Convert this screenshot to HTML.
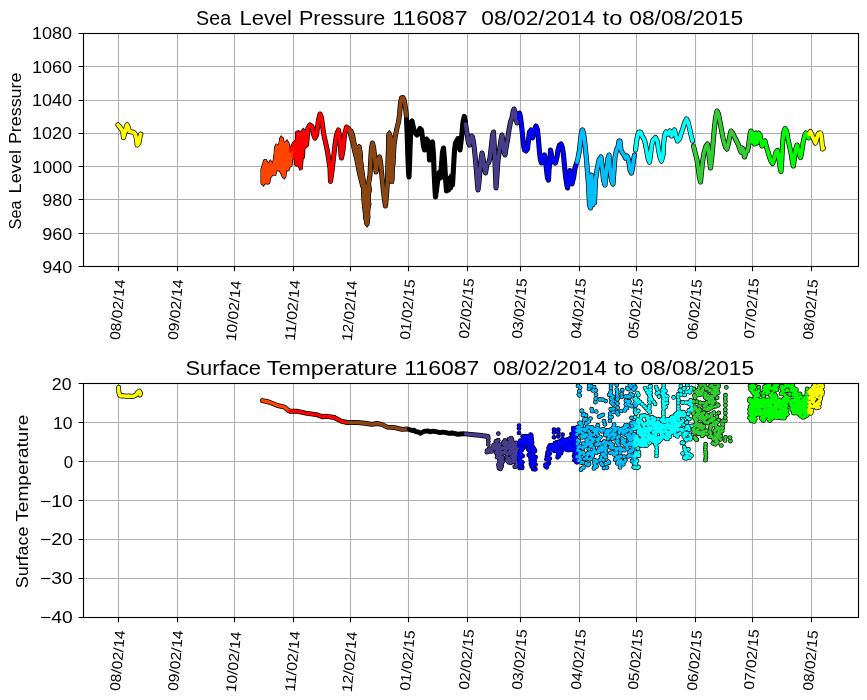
<!DOCTYPE html><html><head><meta charset="utf-8"><title>Sea Level Pressure / Surface Temperature 116087</title><style>html,body{margin:0;padding:0;background:#fff;overflow:hidden;}svg{display:block;will-change:transform;}text{font-family:"Liberation Sans", sans-serif;fill:#000;}</style></head><body>
<svg width="867" height="700" viewBox="0 0 867 700">
<rect width="867" height="700" fill="#fff"/>
<defs><clipPath id="c0"><rect x="83.5" y="33.5" width="775.0" height="233.0"/></clipPath></defs>
<path d="M118.5 33.5V266.5M177.5 33.5V266.5M234.5 33.5V266.5M293.5 33.5V266.5M350.5 33.5V266.5M408.5 33.5V266.5M467.5 33.5V266.5M520.5 33.5V266.5M579.5 33.5V266.5M636.5 33.5V266.5M695.5 33.5V266.5M752.5 33.5V266.5M811.5 33.5V266.5M83.5 66.5H858.5M83.5 100.5H858.5M83.5 133.5H858.5M83.5 166.5H858.5M83.5 199.5H858.5M83.5 233.5H858.5" stroke="#b0b0b0" stroke-width="1.11" fill="none"/>
<g clip-path="url(#c0)"><path d="M118.0 125.0 120.5 127.8 122.8 131.5 123.5 137.5 125.2 131.5 127.0 124.8 128.5 128.0 129.2 131.5 132.0 132.0 134.0 132.5 135.5 135.0 136.5 139.0 137.2 145.0 138.8 143.0 140.0 136.5 140.8 134.2M263.0 183.0 263.5 172.0 265.5 182.0 265.5 163.5 268.0 182.0 268.5 171.0 270.0 175.0 270.5 163.5 272.5 173.0 274.0 167.0 275.5 169.0 276.5 147.5 278.5 169.0 279.0 150.0 281.0 165.0 281.5 139.0 283.0 160.0 284.0 176.0 285.0 155.0 287.0 143.5 287.5 169.0 289.5 152.0 290.0 165.0 291.5 150.0M290.5 151.0 292.5 148.0 294.5 143.5 296.0 147.0 296.5 164.0 297.5 133.0 299.0 147.0 300.0 166.0 301.0 135.0 302.5 157.0 303.5 131.5 305.0 146.0 306.5 145.0 308.0 128.0 310.0 125.0 312.0 126.5 313.5 134.0 315.0 138.0 316.5 135.0 318.5 120.0 320.0 114.0 321.5 118.0 322.5 125.0 323.5 133.0 325.0 140.0 327.0 149.0 328.5 158.0 330.0 168.0 330.5 181.5 332.0 171.0 333.5 158.0 335.0 145.0 336.5 135.0 338.5 130.0 340.0 140.0 341.0 155.0 341.5 158.0 343.0 150.0 344.5 135.0 346.5 127.0 348.5 130.0M349.5 131.0 351.0 131.0 352.5 135.0 354.0 143.0 355.5 150.0 357.0 153.0 358.5 148.5 359.5 150.0 360.5 160.0 361.5 168.0 362.5 176.0 363.5 183.0 364.5 188.0 364.0 195.0 366.0 200.0 364.5 206.0 366.5 211.0 365.5 217.0 367.0 224.0 368.0 217.0 367.0 210.0 369.0 204.0 367.5 197.0 369.5 190.0 368.5 184.0 370.0 175.0 370.5 165.0 371.0 155.0 371.5 148.0 372.5 143.0 373.5 147.0 374.5 155.0 375.5 165.0 376.0 172.0 377.0 165.0 378.0 159.0 379.5 157.0 380.5 162.0 381.5 172.0 382.5 182.0 383.5 192.0 384.5 200.0 385.5 206.0 386.5 195.0 387.5 180.0 388.0 160.0 389.0 134.0 390.0 150.0 390.5 180.0 391.5 145.0 392.0 180.0 392.5 150.0 393.0 165.0 394.0 145.0 395.5 135.0 397.0 128.0 398.5 122.0 399.5 115.0 400.5 103.0 401.5 98.0 403.0 97.5 404.0 100.0 405.0 105.0 406.0 112.0 406.5 117.0M406.5 119.0 407.0 130.0 407.5 145.0 408.0 160.0 408.5 172.0 409.0 177.0 409.5 165.0 410.0 150.0 410.5 135.0 411.0 122.0 412.0 121.0 413.5 128.0 415.0 133.0 417.0 135.0 418.5 132.0 420.0 128.5 421.5 130.0 422.5 138.0 423.5 146.0 424.5 150.0 425.5 144.0 426.5 139.0 428.0 141.0 429.0 150.0 429.5 160.0 430.5 150.0 431.5 143.0 432.5 142.0 433.5 155.0 434.0 170.0 434.5 180.0 435.0 190.0 435.5 197.0 436.5 190.0 437.5 182.0 438.5 175.0 439.5 172.0 440.5 178.0 441.5 165.0 442.5 152.0 443.5 148.0 444.5 160.0 445.5 178.0 446.5 191.0 447.5 180.0 448.5 190.0 449.5 178.0 450.5 188.0 451.5 176.0 452.5 185.0 453.5 168.0 454.5 150.0 455.5 143.0 457.9 138.6 459.0 145.0 460.0 150.0 461.0 142.0 462.0 133.0 463.0 122.0 464.3 116.4 465.5 122.0M465.5 124.0 466.5 130.0 467.5 137.0 468.5 143.0 469.5 145.0 470.5 140.0 471.5 136.0 472.5 137.0 473.5 142.0 474.5 150.0 475.5 160.0 476.5 172.0 477.5 185.0 478.0 190.0 479.0 182.0 480.0 170.0 481.0 160.0 482.0 153.0 483.0 158.0 484.0 166.0 485.5 173.0 487.0 164.0 488.5 163.0 490.0 158.0 491.5 145.0 492.5 135.0 493.5 132.0 494.5 150.0 495.5 175.0 496.0 188.0 497.0 175.0 498.0 160.0 499.5 150.0 501.0 140.0 502.0 135.0 503.0 142.0 504.0 152.0 505.0 155.0 506.0 148.0 507.5 140.0 509.0 130.0 510.5 122.0 512.0 118.0 513.0 112.0 514.0 109.0 515.0 112.0 516.0 119.0 517.0 123.0M518.5 118.0 519.5 113.0 520.5 117.0 521.5 125.0 522.5 135.0 523.5 145.0 524.5 150.0 526.0 151.0 527.5 149.0 528.5 140.0 529.5 132.0 531.0 130.0 532.5 138.0 534.0 131.0 536.0 126.0 537.5 130.0 538.5 140.0 539.5 152.0 540.5 160.0 541.5 163.0 543.0 158.0 544.5 155.0 545.5 160.0 546.5 170.0 547.5 178.0 548.5 180.0 549.0 170.0 550.0 160.0 550.5 150.0 551.5 155.0 552.5 162.0 554.0 160.0 555.5 163.0 557.0 157.0 558.0 150.0 559.5 145.0 561.0 144.0 562.5 148.0 563.5 155.0 564.5 166.0 565.5 176.0 566.5 183.0 567.5 188.0 569.0 178.0 570.0 170.5 571.0 178.0 572.0 184.0 573.5 178.0 575.0 168.0 576.5 163.0M577.0 162.0 578.0 158.0 579.5 150.0 580.5 140.0 581.5 132.0 582.5 130.0 583.5 133.0 584.5 140.0 585.5 150.0 586.5 160.0 587.5 172.0 588.5 185.0 589.0 195.0 589.5 205.0 590.5 208.0 591.5 175.0 592.5 205.0 593.5 185.0 594.5 203.0 595.5 180.0 597.0 170.0 599.0 160.0 601.0 157.0 602.5 170.0 603.5 180.0 605.0 185.0 606.5 170.0 608.0 158.0 609.0 155.0 610.0 168.0 611.5 180.0 613.0 184.0 614.0 170.0 615.0 157.0 616.5 150.0 618.0 147.0 619.0 141.0 620.0 141.0 621.0 150.0 622.5 153.0 624.0 155.0 625.5 158.0 627.0 156.0 628.0 158.0 629.0 163.0 630.0 170.0 631.5 173.0 632.5 168.0 633.5 160.0 634.5 155.0M635.5 150.0 636.5 142.0 637.5 136.0 639.0 132.0 640.5 132.0 642.0 136.0 643.5 138.0 645.0 142.0 646.5 150.0 648.0 158.0 649.5 162.0 650.5 155.0 651.5 146.0 653.0 140.0 655.5 137.5 657.5 142.0 658.5 150.0 660.0 157.0 661.5 161.0 663.0 155.0 663.5 145.0 664.5 136.0 666.0 132.0 668.0 134.0 670.0 131.0 671.5 136.0 673.0 132.0 674.5 130.0 676.0 136.0 677.5 141.0 679.5 139.0 681.0 134.0 683.0 128.0 684.5 123.0 686.5 119.0 688.0 122.0 689.5 128.0 691.0 135.0 692.5 141.0M693.5 146.0 695.0 152.0 697.0 160.0 698.5 170.0 699.5 178.0 700.5 182.0 701.5 172.0 702.5 162.0 704.0 153.0 706.0 146.0 707.5 144.0 708.5 150.0 709.5 160.0 710.5 168.0 711.5 160.0 712.5 150.0 713.5 138.0 714.5 127.0 715.5 118.0 717.0 111.0 718.5 114.0 720.0 122.0 721.5 130.0 723.0 138.0 724.5 144.0 725.5 147.0 727.0 149.0 728.5 143.0 730.0 135.0 731.0 131.0 732.5 133.0 734.0 136.0 736.0 140.0 738.0 144.0 739.5 148.0 741.0 152.0 742.0 148.0 743.0 149.0 744.5 157.0 746.0 152.0 747.5 151.0 748.5 146.0 749.5 138.0 750.5 132.0M751.0 131.0 752.0 142.0 753.0 133.0 754.5 144.0 756.0 133.0 757.0 143.0 758.5 133.0 760.0 135.0 761.0 140.0 762.0 146.0 763.5 142.0 765.0 141.0 766.5 147.0 768.0 152.0 769.5 157.0 771.0 161.0 772.7 163.5 774.5 158.0 776.0 152.0 777.4 150.5 778.5 155.0 779.5 163.0 780.5 170.0 781.0 171.5 781.8 160.0 782.5 145.0 783.5 133.0 785.0 128.5 786.5 131.0 788.0 139.0 789.5 146.0 791.0 153.0 792.5 162.0 793.3 166.0 794.5 158.0 795.5 150.0 797.0 145.0 798.5 150.0 800.0 156.0 800.6 157.5 801.5 153.0 803.0 143.0 804.5 136.0 806.0 133.0 807.5 135.0 808.5 138.0M809.0 134.0 810.4 131.5 811.5 134.0 812.5 137.0 813.5 138.0 814.5 141.0 815.5 143.0 816.5 140.0 817.5 136.0 818.6 133.5 820.5 133.0 821.5 137.0 822.0 143.0 822.5 149.0 823.5 148.0" fill="none" stroke="#000" stroke-width="5.1" stroke-linejoin="round" stroke-linecap="round"/><path d="M261.0 169.4 264.0 160.0 266.1 159.6 268.3 163.4 270.4 160.0 272.6 163.8 274.3 154.8 276.0 144.1 278.6 145.0 281.1 136.0 284.1 142.9 287.1 139.9 289.7 146.3 289.7 155.7 289.3 166.8 286.7 167.7 284.6 178.8 282.4 176.3 279.9 171.6 277.7 166.8 275.6 175.4 273.0 174.6 270.4 178.0 267.9 184.0 265.3 181.4 263.6 186.1 261.4 181.4Z" fill="#000" stroke="#000" stroke-width="1.3" stroke-linejoin="round"/><path d="M289.6 150.1 293.0 142.7 295.3 140.4 297.0 143.2 298.7 130.7 301.0 132.4 303.3 128.4 305.5 130.7 306.1 147.2 303.8 150.1 302.1 168.9 299.8 170.0 298.1 163.2 296.4 165.5 294.7 158.7 291.8 158.7 289.6 155.2Z" fill="#000" stroke="#000" stroke-width="1.3" stroke-linejoin="round"/><path d="M387.0 135.0 389.3 130.7 391.0 133.0 393.5 140.0 394.3 160.0 393.5 183.0 390.5 183.2 388.0 175.0 387.0 160.0Z" fill="#000" stroke="#000" stroke-width="1.3" stroke-linejoin="round"/><path d="M347.5 127.0 350.0 127.0 352.0 131.0 353.5 137.0 355.5 143.0 357.5 146.0 359.0 144.5 361.0 146.0 362.0 152.0 362.5 163.0 363.5 172.0 365.0 180.0 366.0 187.0 361.0 187.0 359.5 181.0 358.0 175.0 356.5 168.0 355.0 160.0 353.0 152.0 351.0 143.0 349.0 136.0Z" fill="#000" stroke="#000" stroke-width="1.3" stroke-linejoin="round"/><path d="M361.5 186.0 364.5 185.0 369.5 184.0 370.3 200.0 369.5 215.0 368.3 224.0 367.0 227.0 365.5 224.0 363.5 214.0 362.0 200.0Z" fill="#000" stroke="#000" stroke-width="1.3" stroke-linejoin="round"/><path d="M261.0 169.4 264.0 160.0 266.1 159.6 268.3 163.4 270.4 160.0 272.6 163.8 274.3 154.8 276.0 144.1 278.6 145.0 281.1 136.0 284.1 142.9 287.1 139.9 289.7 146.3 289.7 155.7 289.3 166.8 286.7 167.7 284.6 178.8 282.4 176.3 279.9 171.6 277.7 166.8 275.6 175.4 273.0 174.6 270.4 178.0 267.9 184.0 265.3 181.4 263.6 186.1 261.4 181.4Z" fill="#ff4500"/><path d="M289.6 150.1 293.0 142.7 295.3 140.4 297.0 143.2 298.7 130.7 301.0 132.4 303.3 128.4 305.5 130.7 306.1 147.2 303.8 150.1 302.1 168.9 299.8 170.0 298.1 163.2 296.4 165.5 294.7 158.7 291.8 158.7 289.6 155.2Z" fill="#ff0000"/><path d="M387.0 135.0 389.3 130.7 391.0 133.0 393.5 140.0 394.3 160.0 393.5 183.0 390.5 183.2 388.0 175.0 387.0 160.0Z" fill="#8b4513"/><path d="M347.5 127.0 350.0 127.0 352.0 131.0 353.5 137.0 355.5 143.0 357.5 146.0 359.0 144.5 361.0 146.0 362.0 152.0 362.5 163.0 363.5 172.0 365.0 180.0 366.0 187.0 361.0 187.0 359.5 181.0 358.0 175.0 356.5 168.0 355.0 160.0 353.0 152.0 351.0 143.0 349.0 136.0Z" fill="#8b4513"/><path d="M361.5 186.0 364.5 185.0 369.5 184.0 370.3 200.0 369.5 215.0 368.3 224.0 367.0 227.0 365.5 224.0 363.5 214.0 362.0 200.0Z" fill="#8b4513"/><path d="M118.0 125.0 120.5 127.8 122.8 131.5 123.5 137.5 125.2 131.5 127.0 124.8 128.5 128.0 129.2 131.5 132.0 132.0 134.0 132.5 135.5 135.0 136.5 139.0 137.2 145.0 138.8 143.0 140.0 136.5 140.8 134.2" fill="none" stroke="#ffff00" stroke-width="3.7" stroke-linejoin="round" stroke-linecap="round"/><path d="M263.0 183.0 263.5 172.0 265.5 182.0 265.5 163.5 268.0 182.0 268.5 171.0 270.0 175.0 270.5 163.5 272.5 173.0 274.0 167.0 275.5 169.0 276.5 147.5 278.5 169.0 279.0 150.0 281.0 165.0 281.5 139.0 283.0 160.0 284.0 176.0 285.0 155.0 287.0 143.5 287.5 169.0 289.5 152.0 290.0 165.0 291.5 150.0" fill="none" stroke="#ff4500" stroke-width="3.7" stroke-linejoin="round" stroke-linecap="round"/><path d="M290.5 151.0 292.5 148.0 294.5 143.5 296.0 147.0 296.5 164.0 297.5 133.0 299.0 147.0 300.0 166.0 301.0 135.0 302.5 157.0 303.5 131.5 305.0 146.0 306.5 145.0 308.0 128.0 310.0 125.0 312.0 126.5 313.5 134.0 315.0 138.0 316.5 135.0 318.5 120.0 320.0 114.0 321.5 118.0 322.5 125.0 323.5 133.0 325.0 140.0 327.0 149.0 328.5 158.0 330.0 168.0 330.5 181.5 332.0 171.0 333.5 158.0 335.0 145.0 336.5 135.0 338.5 130.0 340.0 140.0 341.0 155.0 341.5 158.0 343.0 150.0 344.5 135.0 346.5 127.0 348.5 130.0" fill="none" stroke="#ff0000" stroke-width="3.7" stroke-linejoin="round" stroke-linecap="round"/><path d="M349.5 131.0 351.0 131.0 352.5 135.0 354.0 143.0 355.5 150.0 357.0 153.0 358.5 148.5 359.5 150.0 360.5 160.0 361.5 168.0 362.5 176.0 363.5 183.0 364.5 188.0 364.0 195.0 366.0 200.0 364.5 206.0 366.5 211.0 365.5 217.0 367.0 224.0 368.0 217.0 367.0 210.0 369.0 204.0 367.5 197.0 369.5 190.0 368.5 184.0 370.0 175.0 370.5 165.0 371.0 155.0 371.5 148.0 372.5 143.0 373.5 147.0 374.5 155.0 375.5 165.0 376.0 172.0 377.0 165.0 378.0 159.0 379.5 157.0 380.5 162.0 381.5 172.0 382.5 182.0 383.5 192.0 384.5 200.0 385.5 206.0 386.5 195.0 387.5 180.0 388.0 160.0 389.0 134.0 390.0 150.0 390.5 180.0 391.5 145.0 392.0 180.0 392.5 150.0 393.0 165.0 394.0 145.0 395.5 135.0 397.0 128.0 398.5 122.0 399.5 115.0 400.5 103.0 401.5 98.0 403.0 97.5 404.0 100.0 405.0 105.0 406.0 112.0 406.5 117.0" fill="none" stroke="#8b4513" stroke-width="3.7" stroke-linejoin="round" stroke-linecap="round"/><path d="M406.5 119.0 407.0 130.0 407.5 145.0 408.0 160.0 408.5 172.0 409.0 177.0 409.5 165.0 410.0 150.0 410.5 135.0 411.0 122.0 412.0 121.0 413.5 128.0 415.0 133.0 417.0 135.0 418.5 132.0 420.0 128.5 421.5 130.0 422.5 138.0 423.5 146.0 424.5 150.0 425.5 144.0 426.5 139.0 428.0 141.0 429.0 150.0 429.5 160.0 430.5 150.0 431.5 143.0 432.5 142.0 433.5 155.0 434.0 170.0 434.5 180.0 435.0 190.0 435.5 197.0 436.5 190.0 437.5 182.0 438.5 175.0 439.5 172.0 440.5 178.0 441.5 165.0 442.5 152.0 443.5 148.0 444.5 160.0 445.5 178.0 446.5 191.0 447.5 180.0 448.5 190.0 449.5 178.0 450.5 188.0 451.5 176.0 452.5 185.0 453.5 168.0 454.5 150.0 455.5 143.0 457.9 138.6 459.0 145.0 460.0 150.0 461.0 142.0 462.0 133.0 463.0 122.0 464.3 116.4 465.5 122.0" fill="none" stroke="#000000" stroke-width="3.7" stroke-linejoin="round" stroke-linecap="round"/><path d="M465.5 124.0 466.5 130.0 467.5 137.0 468.5 143.0 469.5 145.0 470.5 140.0 471.5 136.0 472.5 137.0 473.5 142.0 474.5 150.0 475.5 160.0 476.5 172.0 477.5 185.0 478.0 190.0 479.0 182.0 480.0 170.0 481.0 160.0 482.0 153.0 483.0 158.0 484.0 166.0 485.5 173.0 487.0 164.0 488.5 163.0 490.0 158.0 491.5 145.0 492.5 135.0 493.5 132.0 494.5 150.0 495.5 175.0 496.0 188.0 497.0 175.0 498.0 160.0 499.5 150.0 501.0 140.0 502.0 135.0 503.0 142.0 504.0 152.0 505.0 155.0 506.0 148.0 507.5 140.0 509.0 130.0 510.5 122.0 512.0 118.0 513.0 112.0 514.0 109.0 515.0 112.0 516.0 119.0 517.0 123.0" fill="none" stroke="#483d8b" stroke-width="3.7" stroke-linejoin="round" stroke-linecap="round"/><path d="M518.5 118.0 519.5 113.0 520.5 117.0 521.5 125.0 522.5 135.0 523.5 145.0 524.5 150.0 526.0 151.0 527.5 149.0 528.5 140.0 529.5 132.0 531.0 130.0 532.5 138.0 534.0 131.0 536.0 126.0 537.5 130.0 538.5 140.0 539.5 152.0 540.5 160.0 541.5 163.0 543.0 158.0 544.5 155.0 545.5 160.0 546.5 170.0 547.5 178.0 548.5 180.0 549.0 170.0 550.0 160.0 550.5 150.0 551.5 155.0 552.5 162.0 554.0 160.0 555.5 163.0 557.0 157.0 558.0 150.0 559.5 145.0 561.0 144.0 562.5 148.0 563.5 155.0 564.5 166.0 565.5 176.0 566.5 183.0 567.5 188.0 569.0 178.0 570.0 170.5 571.0 178.0 572.0 184.0 573.5 178.0 575.0 168.0 576.5 163.0" fill="none" stroke="#0000ff" stroke-width="3.7" stroke-linejoin="round" stroke-linecap="round"/><path d="M577.0 162.0 578.0 158.0 579.5 150.0 580.5 140.0 581.5 132.0 582.5 130.0 583.5 133.0 584.5 140.0 585.5 150.0 586.5 160.0 587.5 172.0 588.5 185.0 589.0 195.0 589.5 205.0 590.5 208.0 591.5 175.0 592.5 205.0 593.5 185.0 594.5 203.0 595.5 180.0 597.0 170.0 599.0 160.0 601.0 157.0 602.5 170.0 603.5 180.0 605.0 185.0 606.5 170.0 608.0 158.0 609.0 155.0 610.0 168.0 611.5 180.0 613.0 184.0 614.0 170.0 615.0 157.0 616.5 150.0 618.0 147.0 619.0 141.0 620.0 141.0 621.0 150.0 622.5 153.0 624.0 155.0 625.5 158.0 627.0 156.0 628.0 158.0 629.0 163.0 630.0 170.0 631.5 173.0 632.5 168.0 633.5 160.0 634.5 155.0" fill="none" stroke="#00bfff" stroke-width="3.7" stroke-linejoin="round" stroke-linecap="round"/><path d="M635.5 150.0 636.5 142.0 637.5 136.0 639.0 132.0 640.5 132.0 642.0 136.0 643.5 138.0 645.0 142.0 646.5 150.0 648.0 158.0 649.5 162.0 650.5 155.0 651.5 146.0 653.0 140.0 655.5 137.5 657.5 142.0 658.5 150.0 660.0 157.0 661.5 161.0 663.0 155.0 663.5 145.0 664.5 136.0 666.0 132.0 668.0 134.0 670.0 131.0 671.5 136.0 673.0 132.0 674.5 130.0 676.0 136.0 677.5 141.0 679.5 139.0 681.0 134.0 683.0 128.0 684.5 123.0 686.5 119.0 688.0 122.0 689.5 128.0 691.0 135.0 692.5 141.0" fill="none" stroke="#00ffff" stroke-width="3.7" stroke-linejoin="round" stroke-linecap="round"/><path d="M693.5 146.0 695.0 152.0 697.0 160.0 698.5 170.0 699.5 178.0 700.5 182.0 701.5 172.0 702.5 162.0 704.0 153.0 706.0 146.0 707.5 144.0 708.5 150.0 709.5 160.0 710.5 168.0 711.5 160.0 712.5 150.0 713.5 138.0 714.5 127.0 715.5 118.0 717.0 111.0 718.5 114.0 720.0 122.0 721.5 130.0 723.0 138.0 724.5 144.0 725.5 147.0 727.0 149.0 728.5 143.0 730.0 135.0 731.0 131.0 732.5 133.0 734.0 136.0 736.0 140.0 738.0 144.0 739.5 148.0 741.0 152.0 742.0 148.0 743.0 149.0 744.5 157.0 746.0 152.0 747.5 151.0 748.5 146.0 749.5 138.0 750.5 132.0" fill="none" stroke="#32cd32" stroke-width="3.7" stroke-linejoin="round" stroke-linecap="round"/><path d="M751.0 131.0 752.0 142.0 753.0 133.0 754.5 144.0 756.0 133.0 757.0 143.0 758.5 133.0 760.0 135.0 761.0 140.0 762.0 146.0 763.5 142.0 765.0 141.0 766.5 147.0 768.0 152.0 769.5 157.0 771.0 161.0 772.7 163.5 774.5 158.0 776.0 152.0 777.4 150.5 778.5 155.0 779.5 163.0 780.5 170.0 781.0 171.5 781.8 160.0 782.5 145.0 783.5 133.0 785.0 128.5 786.5 131.0 788.0 139.0 789.5 146.0 791.0 153.0 792.5 162.0 793.3 166.0 794.5 158.0 795.5 150.0 797.0 145.0 798.5 150.0 800.0 156.0 800.6 157.5 801.5 153.0 803.0 143.0 804.5 136.0 806.0 133.0 807.5 135.0 808.5 138.0" fill="none" stroke="#00ff00" stroke-width="3.7" stroke-linejoin="round" stroke-linecap="round"/><path d="M809.0 134.0 810.4 131.5 811.5 134.0 812.5 137.0 813.5 138.0 814.5 141.0 815.5 143.0 816.5 140.0 817.5 136.0 818.6 133.5 820.5 133.0 821.5 137.0 822.0 143.0 822.5 149.0 823.5 148.0" fill="none" stroke="#ffff00" stroke-width="3.7" stroke-linejoin="round" stroke-linecap="round"/></g>
<rect x="83.5" y="33.5" width="775.0" height="233.0" fill="none" stroke="#000" stroke-width="1.11" stroke-linejoin="miter" stroke-linecap="square"/>
<path d="M118.5 266.5v4.86M177.5 266.5v4.86M234.5 266.5v4.86M293.5 266.5v4.86M350.5 266.5v4.86M408.5 266.5v4.86M467.5 266.5v4.86M520.5 266.5v4.86M579.5 266.5v4.86M636.5 266.5v4.86M695.5 266.5v4.86M752.5 266.5v4.86M811.5 266.5v4.86M83.5 33.5h-4.86M83.5 66.5h-4.86M83.5 100.5h-4.86M83.5 133.5h-4.86M83.5 166.5h-4.86M83.5 199.5h-4.86M83.5 233.5h-4.86M83.5 266.5h-4.86" stroke="#000" stroke-width="1.11" fill="none"/>
<text x="32.03" y="39.03" font-size="16.50" textLength="39.97" lengthAdjust="spacingAndGlyphs">1080</text>
<text x="32.03" y="73.03" font-size="16.50" textLength="39.97" lengthAdjust="spacingAndGlyphs">1060</text>
<text x="32.03" y="105.98" font-size="16.50" textLength="39.97" lengthAdjust="spacingAndGlyphs">1040</text>
<text x="32.03" y="138.98" font-size="16.50" textLength="39.97" lengthAdjust="spacingAndGlyphs">1020</text>
<text x="32.23" y="172.98" font-size="16.50" textLength="39.97" lengthAdjust="spacingAndGlyphs">1000</text>
<text x="42.29" y="205.98" font-size="16.50" textLength="30.01" lengthAdjust="spacingAndGlyphs">980</text>
<text x="42.29" y="239.98" font-size="16.50" textLength="30.01" lengthAdjust="spacingAndGlyphs">960</text>
<text x="42.29" y="273.13" font-size="16.50" textLength="30.01" lengthAdjust="spacingAndGlyphs">940</text>
<text x="-30.50" y="5.15" font-size="14.40" textLength="60.84" lengthAdjust="spacingAndGlyphs" transform="translate(117.30 309.50) rotate(-85)">08/02/14</text>
<text x="-30.50" y="5.15" font-size="14.40" textLength="60.84" lengthAdjust="spacingAndGlyphs" transform="translate(175.30 309.50) rotate(-85)">09/02/14</text>
<text x="-30.77" y="5.15" font-size="14.40" textLength="60.82" lengthAdjust="spacingAndGlyphs" transform="translate(233.30 310.50) rotate(-85)">10/02/14</text>
<text x="-30.77" y="5.15" font-size="14.40" textLength="60.82" lengthAdjust="spacingAndGlyphs" transform="translate(292.30 310.00) rotate(-85)">11/02/14</text>
<text x="-30.77" y="5.15" font-size="14.40" textLength="60.82" lengthAdjust="spacingAndGlyphs" transform="translate(349.30 310.50) rotate(-85)">12/02/14</text>
<text x="-30.28" y="5.15" font-size="14.40" textLength="60.60" lengthAdjust="spacingAndGlyphs" transform="translate(407.30 309.50) rotate(-85)">01/02/15</text>
<text x="-30.28" y="5.15" font-size="14.40" textLength="60.60" lengthAdjust="spacingAndGlyphs" transform="translate(466.30 308.50) rotate(-85)">02/02/15</text>
<text x="-30.28" y="5.15" font-size="14.40" textLength="60.60" lengthAdjust="spacingAndGlyphs" transform="translate(519.30 308.50) rotate(-85)">03/02/15</text>
<text x="-30.28" y="5.15" font-size="14.40" textLength="60.60" lengthAdjust="spacingAndGlyphs" transform="translate(578.30 308.50) rotate(-85)">04/02/15</text>
<text x="-30.28" y="5.15" font-size="14.40" textLength="60.60" lengthAdjust="spacingAndGlyphs" transform="translate(635.30 308.50) rotate(-85)">05/02/15</text>
<text x="-30.28" y="5.15" font-size="14.40" textLength="60.60" lengthAdjust="spacingAndGlyphs" transform="translate(694.30 309.50) rotate(-85)">06/02/15</text>
<text x="-30.28" y="5.15" font-size="14.40" textLength="60.60" lengthAdjust="spacingAndGlyphs" transform="translate(751.30 308.50) rotate(-85)">07/02/15</text>
<text x="-30.28" y="5.15" font-size="14.40" textLength="60.60" lengthAdjust="spacingAndGlyphs" transform="translate(810.30 309.50) rotate(-85)">08/02/15</text>
<defs><clipPath id="c1"><rect x="83.5" y="383.5" width="775.0" height="234.0"/></clipPath></defs>
<path d="M118.5 383.5V617.5M177.5 383.5V617.5M234.5 383.5V617.5M293.5 383.5V617.5M350.5 383.5V617.5M408.5 383.5V617.5M467.5 383.5V617.5M520.5 383.5V617.5M579.5 383.5V617.5M636.5 383.5V617.5M695.5 383.5V617.5M752.5 383.5V617.5M811.5 383.5V617.5M83.5 422.5H858.5M83.5 461.5H858.5M83.5 500.5H858.5M83.5 539.5H858.5M83.5 578.5H858.5" stroke="#b0b0b0" stroke-width="1.11" fill="none"/>
<g clip-path="url(#c1)"><defs><marker id="mk" markerUnits="userSpaceOnUse" markerWidth="5.7" markerHeight="5.7" refX="2.85" refY="2.85" overflow="visible"><circle cx="2.85" cy="2.85" r="2.35" fill="#000"/></marker><marker id="m0000ff" markerUnits="userSpaceOnUse" markerWidth="5.7" markerHeight="5.7" refX="2.85" refY="2.85" overflow="visible"><circle cx="2.85" cy="2.85" r="1.65" fill="#0000ff"/></marker><marker id="m00bfff" markerUnits="userSpaceOnUse" markerWidth="5.7" markerHeight="5.7" refX="2.85" refY="2.85" overflow="visible"><circle cx="2.85" cy="2.85" r="1.65" fill="#00bfff"/></marker><marker id="m00ff00" markerUnits="userSpaceOnUse" markerWidth="5.7" markerHeight="5.7" refX="2.85" refY="2.85" overflow="visible"><circle cx="2.85" cy="2.85" r="1.65" fill="#00ff00"/></marker><marker id="m00ffff" markerUnits="userSpaceOnUse" markerWidth="5.7" markerHeight="5.7" refX="2.85" refY="2.85" overflow="visible"><circle cx="2.85" cy="2.85" r="1.65" fill="#00ffff"/></marker><marker id="m32cd32" markerUnits="userSpaceOnUse" markerWidth="5.7" markerHeight="5.7" refX="2.85" refY="2.85" overflow="visible"><circle cx="2.85" cy="2.85" r="1.65" fill="#32cd32"/></marker><marker id="m483d8b" markerUnits="userSpaceOnUse" markerWidth="5.7" markerHeight="5.7" refX="2.85" refY="2.85" overflow="visible"><circle cx="2.85" cy="2.85" r="1.65" fill="#483d8b"/></marker><marker id="mffff00" markerUnits="userSpaceOnUse" markerWidth="5.7" markerHeight="5.7" refX="2.85" refY="2.85" overflow="visible"><circle cx="2.85" cy="2.85" r="1.65" fill="#ffff00"/></marker></defs><path d="M118.6 387.3 118.8 392.0 119.6 395.0 121.0 396.0 123.0 395.8 126.0 396.2 129.0 396.0 132.0 396.5 134.0 396.0 136.0 395.0 137.5 392.6 139.4 391.0 140.6 393.4 140.0 395.0M262.4 400.6 268.8 402.0 278.1 405.7 284.5 407.1 288.2 410.3 290.0 411.2M290.0 411.2 296.5 411.2 305.7 413.1 317.7 414.9 322.3 416.8 327.0 416.3 334.3 417.5 341.1 421.1 347.1 422.5M348.5 422.5 357.7 422.5 366.9 423.5 371.5 424.4 377.0 423.5 381.7 424.4 387.2 427.1 394.6 427.6 402.0 429.4 407.5 429.0M408.5 429.3 412.0 430.5 414.0 430.2 416.0 431.8 418.5 432.0 420.3 433.2 422.0 432.4 424.0 431.4 427.7 430.9 430.0 431.8 433.0 431.2 436.9 431.8 440.0 432.6 443.0 432.1 446.1 432.7 449.0 433.4 452.0 433.0 455.4 433.6 458.0 434.4 460.0 434.0 463.7 433.8M465.5 433.9 473.8 434.8 479.3 435.3 485.0 436.0 488.0 436.5" fill="none" stroke="#000" stroke-width="4.9" stroke-linejoin="round" stroke-linecap="round"/><path d="M486.9 452.2 487.1 450.5 488.0 451.8 488.3 438.5 488.3 441.4 488.3 444.5 488.3 451.5 488.8 449.2 490.0 448.6 490.8 450.9 491.1 451.1 491.6 451.5 492.8 448.5 493.4 447.3 493.6 445.1 494.3 445.6 494.6 448.9 494.8 444.6 495.5 448.2 495.7 448.7 495.9 441.3 496.1 452.7 496.2 447.8 496.5 447.7 496.8 447.7 496.8 444.3 496.9 441.9 497.1 446.7 497.1 451.3 497.1 457.2 497.2 455.7 497.7 452.8 498.0 449.7 498.0 444.4 498.0 452.9 498.1 447.4 498.2 440.2 498.3 433.6 498.4 465.3 498.4 449.4 498.6 449.3 498.9 467.9 498.9 446.7 498.9 463.6 499.0 454.4 499.2 467.4 499.2 465.3 499.3 458.3 499.5 445.1 499.7 448.9 499.7 460.4 499.9 444.5 499.9 461.0 500.0 455.6 500.3 448.2 500.3 468.9 500.3 458.9 500.5 468.4 500.7 461.9 500.8 458.0 500.8 451.7 501.0 463.3 501.1 461.1 501.3 463.0 501.5 466.0 501.5 463.2 501.6 452.8 501.7 466.1 501.9 447.6 501.9 457.1 502.2 453.4 502.2 459.8 502.4 453.1 502.6 448.7 502.9 461.4 502.9 457.8 503.1 448.1 503.3 443.3 503.7 452.6 503.7 442.2 504.2 444.6 504.2 452.2 504.2 442.2 504.8 447.3 504.9 440.3 505.2 444.9 505.5 450.9 505.7 448.3 505.8 449.8 505.9 453.2 506.3 444.2 506.4 444.0 506.4 443.4 506.6 456.8 506.6 442.5 506.7 460.1 506.8 443.1 507.1 454.2 507.2 460.6 507.5 453.4 507.5 445.5 507.7 448.3 507.7 447.7 507.7 459.4 507.8 454.1 508.1 460.8 508.2 444.7 508.5 460.4 508.5 452.2 508.6 462.3 508.9 446.8 509.0 444.2 509.0 439.0 509.1 443.6 509.1 458.3 509.1 447.4 509.2 444.1 509.8 452.7 509.9 441.5 509.9 460.0 509.9 453.0 510.3 451.7 510.4 448.3 510.4 450.4 510.4 445.3 510.8 453.4 510.8 460.1 510.9 448.5 510.9 462.8 511.1 439.3 511.1 438.0 511.5 439.8 511.7 438.9 511.9 449.3 511.9 456.3 512.0 456.5 512.2 456.1 512.3 441.0 512.3 443.3 512.4 445.5 512.6 451.4 512.7 443.9 512.9 459.4 513.0 460.7 513.1 442.9 513.3 456.9 513.4 455.2 513.5 457.6 513.6 454.9 513.7 447.9 513.7 461.9 513.8 447.2 514.0 450.8 514.1 458.6 514.1 452.7 514.2 449.1 514.5 458.8 514.6 453.2 514.7 466.8 514.7 446.0 514.8 454.0 515.1 448.7 515.2 446.3 515.2 447.2 515.3 450.5 515.5 445.6 515.6 456.7 515.6 444.1 515.8 456.0 515.9 448.5 516.0 466.3 516.1 449.9 516.2 442.9 516.2 461.7 516.4 455.7 516.7 458.1 516.7 451.1 516.8 464.3 516.8 464.9 517.2 453.1 517.4 455.5 517.4 448.5 517.4 452.4" fill="none" stroke="none" marker-start="url(#mk)" marker-mid="url(#mk)" marker-end="url(#mk)"/><path d="M518.3 457.3 518.3 446.1 518.5 455.6 518.7 465.7 518.8 442.9 518.9 453.3 519.0 425.5 519.0 428.5 519.0 433.0 519.0 461.2 519.1 452.3 519.3 462.5 519.4 461.8 519.5 458.9 519.6 467.9 519.9 442.3 520.0 460.6 520.0 458.9 520.0 452.8 520.3 440.7 520.3 444.8 520.3 442.9 520.4 463.3 520.9 442.4 520.9 448.3 520.9 450.2 521.0 463.4 521.1 455.4 521.4 454.7 521.6 463.4 521.7 456.2 521.7 443.1 521.8 462.6 521.8 450.0 522.1 467.9 522.2 467.1 522.3 448.2 522.4 462.3 522.4 440.7 522.7 456.1 522.9 436.3 523.2 448.1 523.3 442.2 523.7 438.0 523.9 447.2 524.2 440.6 524.5 444.2 524.7 444.1 524.9 440.1 525.1 437.6 525.5 442.4 525.7 436.0 525.9 442.7 526.2 438.3 526.3 442.9 526.5 438.5 527.0 442.0 527.1 436.4 527.6 440.2 527.6 439.7 527.7 440.7 528.0 440.1 528.1 449.0 528.1 447.9 528.5 443.2 528.7 455.1 528.7 438.7 528.9 443.2 529.1 441.9 529.1 450.6 529.4 444.5 529.5 440.7 529.7 445.9 529.7 442.7 529.8 439.4 529.9 454.5 530.0 437.1 530.0 436.9 530.4 457.6 530.4 454.4 530.5 454.6 530.6 434.7 530.8 460.3 530.8 463.8 530.9 447.0 530.9 436.9 530.9 458.2 531.3 435.5 531.6 439.7 531.6 440.8 531.6 451.2 531.7 466.5 531.8 438.7 532.0 461.8 532.0 446.7 532.2 456.1 532.2 442.6 532.4 456.9 532.5 448.4 532.5 464.9 532.6 461.1 532.7 446.7 532.8 451.0 532.8 450.6 533.1 464.4 533.2 469.1 533.3 450.3 533.4 452.9 533.5 464.6 533.6 456.5 533.9 461.2 534.0 450.3 534.0 448.5 534.2 458.8 534.5 460.7 534.5 461.0 534.7 469.2 534.9 450.7 535.0 450.8 535.2 457.4 535.4 469.2 535.6 457.0 535.6 464.6 545.5 464.6 545.6 466.4 546.4 466.0 546.4 459.3 546.8 467.3 547.0 456.2 547.3 456.9 547.5 453.0 547.5 464.7 547.7 454.4 547.8 455.6 548.0 451.6 548.5 448.0 548.5 452.6 548.9 459.7 549.0 463.1 549.0 450.3 549.3 447.0 549.5 446.0 549.8 453.6 549.8 458.6 550.0 445.4 550.3 446.3 550.4 446.6 550.9 447.7 550.9 447.9 551.1 449.0 551.5 445.6 552.0 445.2 552.1 446.7 552.8 449.4 553.5 447.5 553.5 449.0 553.8 446.3 554.0 429.6 554.0 432.5 554.0 437.3 554.2 445.4 554.2 450.8 554.9 443.0 555.3 449.8 555.3 450.5 555.7 448.4 555.9 447.5 556.2 442.8 556.3 443.6 557.0 451.0 557.0 445.6 557.1 442.2 557.5 442.3 557.5 451.2 557.6 457.3 557.6 443.4 557.9 442.7 558.1 455.2 558.2 452.5 558.3 453.5 558.3 429.6 558.3 432.5 558.3 436.4 558.9 447.6 559.0 446.3 559.0 456.0 559.1 441.8 559.5 443.8 559.5 444.8 559.7 444.9 559.9 451.0 560.0 443.5 560.1 442.5 560.3 445.2 560.5 449.9 560.6 441.2 560.9 440.9 561.0 453.3 561.2 443.1 561.2 443.5 561.4 451.2 562.0 441.1 562.0 445.5 562.2 440.6 562.3 449.5 562.6 434.7 562.7 439.0 563.0 444.3 563.3 445.0 563.5 442.5 563.6 444.5 564.0 448.8 564.3 442.8 564.4 448.4 564.7 440.7 564.9 446.9 565.3 446.2 565.5 449.2 565.6 445.5 566.5 441.5 566.5 441.8 566.8 439.7 567.0 440.5 567.3 450.0 567.3 449.4 567.6 446.2 568.0 442.9 568.4 447.5 568.4 440.3 568.7 439.4 568.8 450.1 569.1 443.8 569.3 441.5 569.8 446.4 569.9 443.2 569.9 438.7 570.1 438.5 570.4 443.1 570.8 443.7 570.9 447.5 570.9 448.8 571.1 438.7 571.4 434.1 571.5 446.2 571.6 449.8 571.7 449.0 571.9 439.0 572.2 434.5 572.5 438.7 572.5 445.8 572.7 444.4 572.9 440.1 572.9 441.8 573.1 428.0 573.3 435.2 573.4 447.7 573.5 432.6 573.7 429.3 573.7 430.0 573.9 431.4 574.0 450.0 574.0 456.1 574.1 447.7 574.3 444.3 574.3 430.2 574.5 447.5 574.5 460.2 574.6 436.6 574.7 453.2 574.7 431.3 574.8 441.8 575.0 456.4 575.1 434.3 575.3 460.2 575.4 447.6 575.4 429.9 575.5 458.9 575.5 449.0 575.6 438.4 575.6 458.9 575.8 453.8 575.8 447.5 575.9 449.4 576.2 437.9 576.3 462.0 576.5 452.6 576.5 447.1 576.5 450.7 576.5 439.8 576.6 443.0 576.6 449.5 576.7 461.3 576.8 427.5 577.0 462.3 577.0 449.4 577.1 458.9 577.2 434.6 577.4 451.2 577.4 448.0 577.4 460.4 577.4 459.3 577.7 460.2 577.7 444.2 577.7 442.6 578.0 441.2 578.0 451.4" fill="none" stroke="none" marker-start="url(#mk)" marker-mid="url(#mk)" marker-end="url(#mk)"/><path d="M576.8 430.6 576.8 434.4 577.0 456.7 577.3 444.0 577.4 440.1 577.7 450.5 577.9 427.2 578.0 385.9 578.2 447.4 578.3 427.1 578.3 382.9 578.6 460.5 578.7 427.6 578.8 394.6 578.9 432.2 578.9 441.2 579.2 429.9 579.4 391.2 579.5 423.0 579.6 454.4 579.6 451.2 579.8 395.5 579.9 457.1 580.0 430.8 580.1 387.5 580.1 446.5 580.4 459.0 580.6 452.7 580.7 423.3 580.9 422.9 580.9 431.7 581.0 469.7 581.1 453.1 581.4 462.4 581.5 425.3 581.6 425.8 581.6 428.8 581.7 410.8 581.8 436.5 582.0 410.8 582.1 437.4 582.1 462.4 582.1 436.4 582.4 468.2 582.6 433.4 582.7 462.3 582.8 448.3 582.9 415.1 583.0 447.2 583.2 452.2 583.3 436.8 583.4 443.5 583.5 467.5 583.8 414.2 584.0 454.5 584.1 428.9 584.2 429.4 584.4 419.5 584.5 458.9 584.6 436.9 584.8 435.6 585.0 430.8 585.1 446.0 585.4 434.7 585.5 445.9 585.9 445.8 586.1 415.4 586.1 419.2 586.2 423.4 586.2 429.1 586.2 463.4 586.6 444.8 586.7 442.0 586.7 457.1 586.8 439.7 587.0 435.4 587.1 458.4 587.3 443.0 587.3 426.8 587.5 453.7 587.8 465.1 588.1 454.9 588.1 439.8 588.4 453.4 588.6 431.1 588.7 427.0 588.7 421.5 588.8 449.2 588.8 443.8 589.0 385.8 589.0 388.9 589.1 383.2 589.2 464.0 589.4 437.4 589.7 459.3 589.8 433.5 589.9 442.3 590.1 452.2 590.5 418.6 590.6 453.8 590.7 446.2 590.7 445.3 590.9 434.5 591.0 386.2 591.0 458.7 591.2 445.9 591.3 438.0 591.3 428.7 591.4 444.3 591.7 409.1 592.0 427.4 592.2 439.4 592.2 411.2 592.4 456.4 592.6 454.6 592.7 441.3 592.8 452.0 592.9 454.5 592.9 390.5 593.1 441.6 593.6 447.6 593.7 434.7 593.7 430.7 593.8 438.8 593.9 468.4 594.2 450.2 594.2 387.1 594.3 460.2 594.5 467.6 594.5 462.9 594.8 428.8 594.9 465.0 595.0 429.4 595.4 402.2 595.6 452.3 595.6 433.0 595.6 460.5 595.7 398.5 595.7 390.3 596.0 394.7 596.1 466.6 596.1 444.5 596.2 452.8 596.2 411.5 596.5 466.2 596.5 432.9 596.9 461.7 596.9 439.4 597.0 431.5 597.3 428.3 597.6 428.8 597.6 443.9 597.8 425.2 597.9 435.1 598.0 440.5 598.0 444.3 598.3 428.9 598.4 451.6 598.5 449.8 599.1 416.7 599.1 451.6 599.2 438.5 599.4 448.5 599.7 443.3 599.8 399.4 599.9 460.2 600.2 443.8 600.3 430.1 600.4 437.0 600.9 459.1 601.0 456.8 601.1 415.6 601.3 463.3 601.7 446.7 601.7 450.0 601.9 431.3 602.0 449.1 602.2 450.3 602.3 464.7 602.4 429.5 602.5 453.9 602.7 399.7 602.8 448.4 602.9 414.8 603.2 442.9 603.2 429.5 603.4 454.5 603.5 460.1 603.5 429.4 603.8 454.8 604.0 468.1 604.0 421.2 604.2 441.8 604.3 441.7 604.3 446.9 604.5 446.8 604.9 424.3 605.1 445.1 605.1 435.1 605.1 456.5 605.4 450.5 605.6 445.0 605.7 431.9 605.7 401.1 605.9 463.5 605.9 457.2 605.9 453.0 606.3 464.1 606.3 448.1 606.8 433.5 607.0 467.6 607.2 442.4 607.3 434.9 607.4 430.4 607.4 432.2 608.0 430.7 608.1 438.8 608.3 433.8 608.4 461.7 608.9 462.8 609.2 394.8 609.2 436.8 609.3 443.4 609.7 431.1 610.0 417.0 610.0 420.8 610.1 443.7 610.1 413.7 610.1 442.6 610.3 447.3 610.4 452.9 610.7 392.5 610.8 429.6 610.8 409.2 610.9 391.6 610.9 435.2 611.0 387.9 611.0 398.6 611.1 384.9 611.2 394.8 611.3 402.4 611.5 445.6 611.6 417.1 611.6 447.9 612.1 453.0 612.2 438.8 612.6 433.3 612.7 444.6 612.8 452.2 613.1 400.7 613.1 432.7 613.2 396.8 613.3 427.3 613.3 404.3 613.3 412.0 613.5 447.9 613.5 408.7 613.9 430.8 614.1 435.1 614.1 437.5 614.1 424.5 614.3 454.5 614.6 428.2 614.8 454.3 615.2 430.6 615.2 459.4 615.3 429.5 615.4 434.5 615.9 450.1 616.1 428.0 616.1 453.3 616.3 448.3 616.6 440.9 616.7 452.5 616.7 385.0 616.8 456.8 616.8 389.5 616.9 412.2 617.0 393.9 617.2 449.0 617.2 399.2 617.3 437.6 617.3 391.7 617.4 396.1 617.4 463.4 617.5 399.1 617.5 403.4 617.6 442.9 617.6 407.6 618.0 414.3 618.0 462.0 618.1 440.7 618.2 458.6 618.5 462.4 618.7 444.8 618.7 428.7 619.0 436.4 619.1 433.1 619.1 456.7 619.3 448.2 619.4 431.7 619.5 431.2 620.1 467.5 620.2 465.0 620.2 452.8 620.6 460.5 620.7 450.2 620.7 447.9 620.8 456.3 620.8 460.9 621.1 462.1 621.1 411.0 621.5 430.0 621.6 429.5 621.7 393.8 621.8 396.8 622.2 442.2 622.2 438.6 622.2 442.1 622.3 390.1 622.3 439.8 622.4 462.3 622.7 430.1 623.0 432.1 623.1 433.3 623.2 464.3 623.3 441.2 623.3 449.7 623.4 428.2 624.1 456.7 624.1 443.5 624.4 450.2 624.6 431.4 624.6 461.4 624.7 410.5 624.9 440.2 625.1 444.8 625.2 427.5 625.4 460.0 625.5 425.3 625.5 396.6 625.6 427.8 625.8 408.4 625.9 400.7 625.9 431.4 625.9 404.6 626.1 445.1 626.1 434.8 626.4 425.0 626.6 445.6 627.0 408.0 627.0 430.3 627.1 388.0 627.2 448.0 627.2 445.3 627.4 448.9 627.5 401.4 627.7 425.6 628.0 396.7 628.0 456.4 628.1 444.3 628.2 403.3 628.2 435.5 628.5 389.2 628.5 429.6 628.7 437.0 629.0 438.5 629.1 443.2 629.2 396.8 629.3 433.9 629.4 455.1 629.5 452.0 629.5 401.3 629.6 405.2 629.8 444.2 629.8 384.8 629.8 435.2 630.0 396.8 630.2 440.2 630.5 450.9 630.5 437.2 630.6 430.0 630.7 393.8 630.8 450.9 631.0 456.1 631.0 386.4 631.2 443.9 631.3 431.6 631.5 417.9 631.5 423.2 631.6 444.6 631.6 439.0 631.8 406.2 632.0 426.0 632.0 450.9 632.0 460.9 632.3 442.9 632.3 449.7 632.3 436.6 632.6 428.9 632.7 395.1 632.9 449.3 633.0 455.8 633.1 388.8 633.1 447.4 633.4 422.1 633.6 384.4 633.7 467.2 633.7 434.2 633.8 463.0 633.9 458.0 633.9 389.6 634.2 457.1 634.2 437.4 634.4 423.0 634.6 434.6 634.7 403.5 634.7 442.5 634.8 424.6 634.9 454.7 635.0 412.1 635.2 409.7 635.2 440.0 635.3 387.3 635.5 459.7 635.6 422.6 635.7 452.0 635.7 405.4" fill="none" stroke="none" marker-start="url(#mk)" marker-mid="url(#mk)" marker-end="url(#mk)"/><path d="M634.4 428.9 634.4 441.6 634.4 444.6 634.7 399.1 634.8 456.0 634.8 467.4 634.9 439.0 635.2 417.1 635.6 463.0 635.6 425.6 635.7 453.6 635.7 445.9 635.9 464.1 635.9 398.0 636.1 427.9 636.1 400.6 636.2 413.4 636.4 437.1 636.5 440.6 636.6 455.6 636.7 440.7 636.8 436.4 637.0 460.8 637.2 455.5 637.3 437.7 637.3 420.8 637.5 467.8 637.5 393.0 637.8 403.0 637.9 400.2 637.9 448.4 637.9 444.5 638.0 419.5 638.0 443.2 638.1 431.5 638.2 421.7 638.2 454.3 638.3 422.6 638.3 410.8 638.4 395.1 638.5 439.8 638.5 466.9 638.5 425.7 638.7 433.2 638.7 441.0 638.7 427.1 638.8 426.7 638.9 452.2 639.0 455.7 639.0 423.5 639.1 426.0 639.1 428.2 639.1 420.6 639.1 443.3 639.2 429.2 639.5 420.1 639.7 440.0 639.7 440.2 639.7 429.1 639.8 442.7 639.9 444.4 639.9 428.7 640.0 427.6 640.0 401.9 640.0 420.3 640.5 431.0 640.6 435.0 640.6 445.6 640.7 434.7 640.7 440.5 641.0 417.7 641.0 432.8 641.2 415.8 641.2 440.5 641.3 429.4 641.4 445.1 641.5 433.4 641.6 433.1 641.7 422.0 641.8 434.8 641.9 429.9 642.0 439.2 642.0 442.4 642.2 404.2 642.3 435.5 642.5 444.6 642.5 430.6 642.6 437.5 642.7 423.9 643.0 415.8 643.1 437.6 643.1 423.9 643.1 445.5 643.4 425.2 643.5 441.6 643.5 435.4 643.6 432.3 643.8 438.8 643.8 442.0 643.9 428.1 644.1 415.7 644.1 425.4 644.2 406.1 644.3 444.6 644.3 423.9 644.3 430.3 644.5 439.4 644.7 438.6 645.0 388.0 645.0 415.7 645.1 428.9 645.1 439.5 645.1 443.9 645.2 424.0 645.3 441.9 645.5 435.3 645.5 435.1 645.6 439.1 645.7 434.4 645.8 445.7 645.8 431.2 645.8 407.9 645.9 444.4 646.0 428.3 646.2 429.8 646.4 440.0 646.6 431.5 646.6 390.2 646.7 435.8 646.7 440.8 646.8 445.3 646.8 422.8 646.9 440.3 647.0 418.6 647.3 441.2 647.4 418.6 647.5 440.5 647.5 416.4 647.7 418.9 647.7 392.7 647.8 439.1 647.8 421.8 647.8 410.2 648.0 439.7 648.1 425.3 648.3 431.4 648.3 421.2 648.5 436.7 648.5 427.8 648.8 433.7 648.9 422.1 649.0 418.1 649.0 429.5 649.2 392.7 649.2 411.0 649.2 430.8 649.3 428.5 649.3 394.8 649.3 407.8 649.3 399.3 649.4 405.8 649.5 443.2 649.5 421.5 649.6 402.4 649.7 389.8 649.7 395.9 649.7 436.9 649.7 412.2 649.8 421.8 649.9 386.6 649.9 434.9 650.0 439.3 650.1 439.1 650.1 438.9 650.3 423.4 650.5 389.8 650.6 430.3 650.6 396.9 650.6 423.4 650.6 386.2 650.6 439.6 650.7 397.0 650.7 393.0 650.8 427.0 651.2 421.6 651.2 439.7 651.2 423.1 651.3 429.4 651.4 438.0 651.4 436.1 651.7 436.4 651.8 438.4 651.9 423.3 651.9 421.1 651.9 399.5 652.0 417.2 652.2 419.7 652.4 438.7 652.4 435.8 652.4 428.6 652.7 440.8 652.8 440.9 653.0 441.4 653.1 424.8 653.2 424.7 653.3 432.5 653.4 437.0 653.6 428.2 653.7 428.0 653.8 401.8 653.9 428.5 653.9 432.9 653.9 432.6 654.1 423.4 654.3 420.5 654.4 441.5 654.5 425.6 654.7 418.7 654.9 423.5 655.1 403.9 655.2 444.0 655.2 439.1 655.2 429.7 655.3 435.8 655.4 431.8 655.5 424.1 655.6 426.6 655.9 434.0 655.9 437.0 656.1 387.0 656.1 444.8 656.1 437.4 656.1 442.1 656.1 426.3 656.3 423.4 656.5 439.6 656.5 439.6 656.5 456.0 656.6 452.9 656.7 450.5 656.7 447.5 656.7 440.2 656.8 438.5 656.9 422.7 656.9 393.4 656.9 424.4 657.0 442.3 657.1 389.3 657.3 431.8 657.5 429.2 657.5 424.0 657.6 441.1 657.8 427.3 657.8 429.7 657.9 419.1 658.4 427.0 658.6 422.5 658.7 441.8 658.7 392.3 658.8 431.7 658.8 440.3 658.9 437.5 659.0 396.6 659.2 440.9 659.3 429.8 659.6 424.1 659.7 424.7 659.8 432.0 660.0 440.2 660.2 429.6 660.3 431.6 660.6 427.7 660.6 430.0 660.7 437.4 660.9 439.1 661.1 433.8 661.2 424.6 661.2 439.1 661.4 437.5 661.6 419.6 661.7 435.2 661.8 425.5 661.8 435.4 661.8 419.8 662.1 393.6 662.2 390.2 662.3 427.8 662.3 430.3 662.5 425.3 662.8 421.3 663.0 432.3 663.1 420.9 663.2 401.2 663.3 436.2 663.3 411.7 663.4 413.9 663.4 421.8 663.4 419.1 663.4 395.8 663.5 417.0 663.5 393.0 663.5 406.2 663.5 403.6 663.5 387.6 663.6 435.6 663.7 421.7 663.7 398.3 663.7 384.8 663.8 408.6 663.8 390.2 663.8 427.4 664.0 436.4 664.0 425.9 664.3 431.7 664.4 437.4 664.7 427.8 664.8 421.4 665.0 427.6 665.0 403.7 665.0 427.4 665.3 395.4 665.4 391.0 665.4 399.4 665.6 425.3 665.6 424.9 665.6 406.9 665.6 437.4 665.8 430.7 666.1 430.8 666.2 427.5 666.4 438.9 666.4 426.3 666.6 433.9 666.7 420.7 666.8 399.5 666.8 428.0 666.8 421.7 666.9 419.0 667.1 402.9 667.2 396.3 667.4 426.1 667.4 435.5 667.6 433.3 667.7 435.9 667.8 438.9 668.0 424.3 668.0 432.3 668.3 423.8 668.4 427.1 668.5 427.1 668.7 420.0 669.0 435.8 669.0 426.8 669.2 434.4 669.4 428.4 669.6 427.3 669.7 427.1 669.8 432.1 669.9 436.8 670.0 418.9 670.2 433.6 670.3 421.1 670.4 428.0 670.5 427.2 670.7 426.1 670.9 426.1 671.0 431.0 671.2 422.1 671.3 429.6 671.6 417.1 671.6 432.7 671.8 428.3 671.8 425.4 672.0 424.1 672.4 416.9 672.5 420.8 672.5 420.0 672.9 431.1 673.1 421.7 673.2 426.2 673.5 428.2 673.6 397.4 673.6 422.1 673.6 419.1 673.9 430.6 673.9 421.4 674.2 417.1 674.3 427.6 674.6 419.0 674.7 421.5 674.9 432.3 674.9 434.7 675.0 414.9 675.2 430.2 675.3 424.4 675.5 421.1 675.6 427.8 675.8 435.1 675.8 418.2 675.8 419.5 676.2 427.2 676.3 414.9 676.3 413.7 676.3 425.0 676.4 427.7 676.9 428.0 677.0 424.7 677.2 427.7 677.2 425.1 677.4 423.2 677.5 436.5 677.5 428.6 677.6 415.0 677.9 430.3 678.0 417.4 678.0 417.7 678.0 422.8 678.1 394.3 678.1 397.1 678.2 402.9 678.2 411.9 678.4 412.6 678.4 424.9 678.4 409.0 678.4 434.3 678.4 406.3 678.5 400.1 678.8 419.8 679.0 425.6 679.1 423.3 679.3 416.0 679.4 414.8 679.5 425.3 679.7 415.2 679.9 412.0 680.0 390.2 680.1 433.4 680.2 423.4 680.6 429.2 680.7 412.4 680.7 422.6 680.8 386.0 681.0 391.1 681.1 394.5 681.1 422.4 681.5 413.7 681.6 421.8 681.7 429.5 681.8 415.5 681.9 413.6 681.9 442.8 682.2 430.9 682.3 402.4 682.4 442.6 682.6 453.5 682.9 402.4 682.9 420.5 683.0 430.2 683.5 412.1 683.5 424.8 683.7 443.1 683.8 436.6 683.8 389.1 683.9 434.3 684.2 447.1 684.3 415.8 684.4 388.3 684.5 457.9 684.6 394.9 684.9 414.3 685.0 449.2 685.1 433.0 685.1 456.6 685.4 451.2 685.6 438.9 685.7 434.7 685.9 429.0 686.0 402.5 686.1 458.5 686.2 457.5 686.5 392.0 686.5 453.2 686.5 440.2 686.8 422.4 686.9 426.6 687.2 433.1 687.2 456.6 687.3 385.1 687.3 417.6 687.5 454.1 688.2 402.7 688.2 426.1 688.2 438.9 688.3 413.7 688.4 449.3 688.4 427.9 688.7 428.7 688.9 391.5 688.9 410.3 689.2 429.7 689.3 454.0 689.4 419.1 689.5 457.8 689.5 404.1 689.8 434.9 689.9 392.3 689.9 438.9 690.3 439.2 690.6 400.3 690.7 390.0 690.8 437.1 690.9 404.0 691.1 400.9 691.3 387.9 691.3 408.8 691.5 455.6 691.8 405.3 691.8 425.8 691.9 408.4 692.0 410.5" fill="none" stroke="none" marker-start="url(#mk)" marker-mid="url(#mk)" marker-end="url(#mk)"/><path d="M693.3 413.6 693.4 429.3 693.5 411.8 693.5 401.3 693.6 432.3 693.8 388.8 693.8 402.0 694.0 430.4 694.1 417.3 694.1 428.4 694.4 395.4 694.4 409.2 694.6 425.1 694.7 418.2 694.8 406.8 694.9 432.1 694.9 437.2 695.1 397.8 695.3 438.5 695.4 396.0 695.5 438.1 695.7 407.1 695.7 391.7 695.8 420.7 695.8 415.5 695.9 408.5 696.1 419.2 696.2 432.1 696.3 425.9 696.5 423.3 696.6 439.5 696.7 439.8 696.7 415.3 696.8 431.2 696.9 401.7 696.9 391.2 697.0 410.7 697.0 419.8 697.3 392.6 697.6 429.7 697.6 413.5 697.7 414.9 697.7 392.9 697.8 390.4 697.9 430.0 698.1 433.4 698.1 411.3 698.1 433.3 698.4 395.0 698.5 425.9 698.5 417.1 698.7 409.5 698.9 391.6 698.9 391.7 699.1 387.9 699.1 383.0 699.1 424.3 699.4 433.7 699.4 394.1 699.5 406.1 699.5 413.6 699.7 426.4 699.8 432.1 699.9 391.4 700.1 427.8 700.1 409.9 700.1 402.9 700.5 402.8 700.5 394.6 700.6 419.2 700.6 433.9 700.8 385.3 700.9 416.5 701.0 418.8 701.2 424.7 701.3 393.6 701.3 428.1 701.5 426.2 701.6 418.0 701.8 432.5 702.1 435.9 702.1 413.7 702.1 417.7 702.2 428.6 702.3 394.0 702.5 390.2 702.7 391.3 702.7 383.9 702.8 388.5 702.9 415.9 703.0 426.3 703.1 435.0 703.3 403.1 703.3 434.7 703.5 432.1 703.7 433.5 703.8 431.0 703.8 420.4 703.8 412.7 704.1 426.5 704.3 431.5 704.5 417.7 704.5 408.9 704.6 406.2 704.8 385.6 704.8 395.5 705.1 422.3 705.1 386.1 705.3 449.6 705.4 418.8 705.4 460.2 705.4 397.0 705.5 446.9 705.6 397.3 705.6 444.1 705.6 393.0 705.7 452.2 705.8 454.5 705.8 457.4 705.8 398.1 705.9 404.3 706.0 404.3 706.1 388.5 706.4 417.0 706.4 430.6 706.5 402.6 706.6 433.9 706.7 414.9 706.8 409.6 706.8 414.8 707.0 398.4 707.2 415.8 707.4 388.4 707.4 422.9 707.5 422.9 707.5 388.8 707.7 395.1 707.8 409.0 708.0 408.0 708.0 416.1 708.0 407.2 708.1 417.2 708.3 407.6 708.4 409.7 708.5 422.1 708.6 416.4 709.0 400.0 709.0 401.9 709.1 396.9 709.1 436.6 709.2 407.7 709.4 407.7 709.5 402.5 709.6 431.8 709.7 390.5 709.7 407.8 709.8 420.4 709.9 432.0 710.0 390.7 710.2 428.7 710.2 436.3 710.3 386.1 710.3 389.8 710.6 432.6 710.7 408.3 710.7 398.4 710.8 426.4 710.8 406.0 710.8 435.2 710.8 420.0 711.0 425.5 711.3 398.2 711.3 415.5 711.4 414.0 711.5 396.2 711.7 386.1 711.8 384.2 711.8 421.1 711.8 400.6 712.0 392.6 712.2 418.0 712.3 386.4 712.3 436.9 712.5 397.4 712.5 403.2 712.7 398.5 712.8 443.3 712.8 403.5 712.9 406.9 713.1 425.1 713.1 419.5 713.4 424.0 713.5 439.1 713.6 418.3 713.7 390.7 713.7 418.6 713.8 388.8 713.8 393.1 714.0 412.5 714.2 418.3 714.2 392.6 714.3 401.3 714.3 438.4 714.6 395.5 714.6 431.3 714.7 387.5 714.9 383.7 715.1 422.1 715.1 392.5 715.2 444.3 715.2 391.6 715.5 436.1 715.6 424.9 715.6 406.3 715.6 433.8 715.7 390.2 715.9 441.1 716.0 429.5 716.2 421.9 716.2 426.6 716.2 437.7 716.3 393.8 716.3 388.7 716.4 383.4 716.7 428.1 716.7 440.1 716.9 416.6 717.1 389.1 717.2 397.7 717.2 443.0 717.2 441.5 717.3 422.3 717.4 390.4 717.5 387.0 717.6 404.6 718.1 383.9 718.1 435.5 718.2 427.6 718.2 392.7 718.3 405.3 718.6 429.3 718.6 432.5 718.7 437.6 718.7 419.8 718.8 386.1 718.8 412.8 719.0 430.0 719.2 433.4 720.6 432.1 720.6 439.3 720.9 435.9 721.0 427.9 721.4 445.5 722.3 430.8 722.4 427.8 722.4 427.9 722.6 420.9 722.8 424.1 722.8 424.3 725.1 440.5 725.3 398.4 725.3 409.6 725.3 417.4 725.4 420.8 725.4 413.1 725.5 401.5 725.5 395.2 725.5 405.3 725.6 437.3 726.3 387.3 730.0 437.5 730.4 441.1" fill="none" stroke="none" marker-start="url(#mk)" marker-mid="url(#mk)" marker-end="url(#mk)"/><path d="M749.5 400.4 749.6 382.2 749.6 409.2 749.6 417.6 749.6 413.3 749.7 398.9 749.9 409.9 749.9 386.1 749.9 401.3 749.9 418.3 750.2 406.8 750.3 418.3 750.3 382.5 750.4 400.1 750.5 414.0 750.6 389.5 750.7 411.8 750.8 406.6 750.8 417.3 751.0 406.2 751.1 400.8 751.1 389.2 751.2 403.2 751.3 420.8 751.4 405.0 751.4 412.2 751.4 411.2 751.4 382.6 751.6 415.3 751.6 385.9 751.8 419.2 752.0 399.9 752.2 391.0 752.2 402.1 752.2 420.4 752.2 411.8 752.3 405.3 752.4 385.0 752.4 416.0 752.4 411.0 752.5 415.3 752.6 408.4 752.9 382.4 752.9 413.0 752.9 407.0 753.0 418.6 753.1 392.5 753.2 413.3 753.2 401.7 753.3 410.8 753.4 388.1 753.4 383.4 753.5 419.8 753.7 407.4 753.7 412.1 753.8 411.4 754.0 417.2 754.0 393.6 754.1 416.1 754.1 421.5 754.2 388.0 754.3 404.2 754.4 386.4 754.5 407.4 754.5 410.7 754.5 391.8 754.6 407.6 754.8 397.4 754.9 399.8 755.0 419.2 755.1 394.8 755.1 407.2 755.2 419.0 755.2 402.8 755.4 414.5 755.6 405.3 755.6 413.0 755.7 382.7 755.7 407.1 755.9 402.5 755.9 414.6 756.0 396.4 756.0 392.4 756.1 402.8 756.2 406.9 756.3 412.1 756.4 399.9 756.5 414.8 756.6 405.3 756.7 392.2 756.8 411.0 756.8 394.3 756.8 410.3 756.8 402.1 756.9 394.8 757.4 409.9 757.4 393.0 757.4 407.3 757.5 399.7 757.7 402.5 757.9 413.5 758.0 399.8 758.0 401.8 758.2 403.7 758.2 406.5 758.3 407.7 758.5 395.2 758.5 395.8 758.5 399.8 758.6 408.8 758.7 401.4 758.8 390.7 758.8 387.1 758.8 406.6 758.9 409.2 758.9 401.6 759.3 409.2 759.6 403.5 759.7 412.6 759.8 401.1 759.9 403.1 760.1 414.8 760.2 407.0 760.6 410.4 760.6 410.7 760.7 406.3 760.8 402.3 760.8 400.0 761.1 402.5 761.3 418.3 761.4 413.0 761.4 413.2 761.6 405.3 761.8 417.2 761.9 418.9 761.9 412.9 762.1 403.1 762.3 404.8 762.6 414.0 762.6 399.8 762.7 417.1 762.9 393.2 763.0 407.1 763.0 399.9 763.0 402.3 763.1 411.4 763.2 420.2 763.4 420.4 763.5 406.3 763.5 402.0 763.6 399.6 763.6 411.8 763.6 396.1 763.8 417.1 763.8 401.1 763.9 400.6 763.9 389.8 764.0 406.3 764.3 399.6 764.4 419.1 764.5 416.7 764.6 386.6 764.6 406.8 764.7 391.2 764.8 408.7 764.8 388.5 764.8 410.4 765.0 412.5 765.1 412.1 765.3 403.7 765.4 407.0 765.4 386.5 765.5 387.2 765.7 416.3 765.8 415.5 766.0 410.3 766.1 389.2 766.2 414.3 766.3 411.4 766.3 411.6 766.3 401.3 766.6 410.8 766.7 393.7 766.8 390.6 766.9 414.5 767.2 402.0 767.2 399.8 767.2 386.4 767.3 410.0 767.3 391.1 767.4 404.3 767.6 410.7 767.6 405.3 767.7 385.0 767.8 406.4 767.8 411.7 767.9 404.3 768.1 392.0 768.1 402.6 768.2 401.2 768.3 413.2 768.5 415.1 768.5 400.0 768.6 392.2 768.7 417.8 768.7 383.6 768.8 419.4 768.9 388.3 769.0 409.1 769.0 412.0 769.1 404.1 769.2 383.1 769.3 416.2 769.5 400.2 769.5 408.9 769.7 387.5 769.7 410.4 769.7 405.4 769.7 385.9 769.8 406.9 769.8 384.1 769.9 406.2 769.9 420.6 770.0 415.6 770.2 417.0 770.3 395.2 770.4 409.6 770.4 409.1 770.5 414.1 770.5 406.6 770.5 417.3 770.8 404.8 770.9 409.8 771.0 408.5 771.0 388.5 771.1 395.9 771.1 414.6 771.3 399.0 771.3 402.6 771.7 417.7 771.7 409.5 771.7 413.0 771.7 408.3 771.8 407.3 771.9 399.9 772.0 398.6 772.1 415.3 772.1 392.9 772.2 401.7 772.3 401.2 772.3 400.0 772.4 413.6 772.4 418.3 772.5 397.8 772.6 400.4 772.7 400.9 772.8 402.1 773.0 414.8 773.1 388.2 773.2 412.8 773.2 416.6 773.3 415.3 773.3 387.7 773.5 400.1 773.5 406.9 773.5 414.5 773.7 395.7 773.8 414.8 774.0 400.1 774.0 390.4 774.0 410.5 774.2 399.0 774.3 385.9 774.4 401.8 774.5 389.5 774.5 411.1 774.6 409.4 774.7 411.5 774.9 382.6 775.0 416.4 775.0 403.7 775.1 409.8 775.1 394.6 775.1 403.5 775.3 382.8 775.3 404.1 775.4 401.5 775.4 409.3 775.5 383.3 775.7 405.4 775.9 417.5 775.9 411.8 776.1 396.6 776.1 408.1 776.1 388.5 776.2 412.0 776.3 398.5 776.4 405.9 776.5 385.9 776.6 406.3 776.6 405.0 776.7 411.9 776.9 389.9 777.1 403.4 777.1 383.5 777.1 411.3 777.1 414.6 777.2 414.4 777.3 405.4 777.4 385.2 777.6 413.4 777.6 415.0 777.8 407.4 777.8 411.5 777.9 413.6 778.1 400.6 778.3 417.6 778.4 404.4 778.5 402.7 778.5 404.8 778.9 402.2 778.9 401.2 779.1 401.9 779.1 415.5 779.3 406.9 779.6 415.7 779.7 415.3 779.9 399.9 779.9 413.6 780.2 416.8 780.2 411.2 780.4 417.0 780.5 409.9 780.7 402.0 780.7 414.8 781.0 418.1 781.1 416.6 781.1 408.5 781.2 415.6 781.2 394.0 781.2 393.6 781.3 406.4 781.5 387.2 781.5 412.1 781.6 411.7 781.6 403.8 781.7 386.1 781.8 417.2 781.9 403.6 781.9 402.9 782.0 389.2 782.2 413.9 782.3 417.1 782.4 408.8 782.5 412.1 782.7 403.1 782.7 390.9 782.8 408.9 782.8 413.8 782.9 401.2 782.9 417.1 783.1 399.9 783.2 404.4 783.4 414.1 783.4 391.5 783.6 411.9 783.7 418.1 783.7 417.2 783.7 415.2 783.9 401.5 784.1 411.8 784.1 398.5 784.1 416.9 784.1 387.6 784.2 408.9 784.2 415.0 784.3 411.1 784.4 417.9 784.5 413.6 784.5 394.6 784.6 413.1 784.7 416.3 784.8 386.9 785.0 407.6 785.1 402.1 785.1 401.2 785.1 404.5 785.3 409.7 785.3 406.4 785.3 383.7 785.4 384.7 785.5 412.4 785.7 414.3 785.7 397.7 785.7 396.5 785.9 400.9 786.0 403.4 786.0 405.6 786.0 400.5 786.2 398.5 786.4 386.2 786.5 411.9 786.5 406.3 786.5 401.5 786.5 396.7 786.5 390.4 786.5 405.4 786.9 411.6 786.9 401.1 787.1 414.3 787.2 414.3 787.2 384.8 787.2 410.0 787.4 398.7 787.6 390.4 787.6 389.9 788.3 384.0 788.4 400.4 788.6 382.9 788.7 383.9 789.3 398.0 789.3 386.1 789.8 394.1 789.8 394.1 790.0 402.4 790.5 386.9 790.9 402.0 790.9 403.7 790.9 405.4 791.0 389.9 791.2 402.3 791.5 400.7 791.5 390.5 791.7 402.7 791.8 408.7 792.0 408.0 792.1 388.1 792.2 384.8 792.2 409.9 792.3 408.4 792.5 400.4 792.6 405.1 792.7 385.5 792.8 409.5 793.0 389.5 793.1 401.0 793.1 401.0 793.1 395.0 793.5 413.1 793.5 411.8 793.7 412.1 793.7 392.1 793.8 395.0 794.0 412.5 794.0 406.2 794.2 410.0 794.2 389.9 794.3 388.5 794.4 412.8 794.5 402.1 794.5 407.5 794.6 393.8 794.7 382.0 794.8 408.0 795.0 404.8 795.0 400.8 795.1 398.6 795.2 397.9 795.3 402.6 795.5 391.1 795.5 400.3 795.6 400.1 795.8 391.9 795.9 410.1 796.1 408.2 796.3 413.1 796.4 389.5 796.4 400.9 796.4 396.9 796.5 400.7 796.7 396.0 796.8 395.3 796.8 405.6 797.2 409.0 797.2 405.3 797.3 393.7 797.6 413.0 797.6 407.3 797.7 403.7 797.8 402.9 797.8 403.9 798.2 401.8 798.2 401.8 798.5 397.1 798.5 399.6 798.5 409.9 798.7 411.8 798.9 405.6 799.0 409.8 799.1 406.0 799.3 413.9 799.4 410.9 799.4 397.5 799.5 406.8 800.0 414.6 800.0 393.8 800.1 410.7 800.2 410.4 800.3 400.8 800.5 407.3 800.7 403.8 800.8 416.2 800.8 412.6 800.8 415.4 801.2 410.4 801.2 396.7 801.5 406.6 801.5 402.5 801.7 403.5 801.7 401.2 801.8 405.7 801.8 402.9 801.8 406.8 802.1 412.7 802.2 401.1 802.4 409.4 802.5 407.0 802.5 408.7 802.6 401.8 802.9 410.4 803.0 410.2 803.0 408.3 803.1 417.4 803.1 399.7 803.3 399.4 803.3 401.3 803.4 405.1 803.6 412.1 803.7 402.5 803.9 406.8 804.1 406.3 804.2 416.6 804.3 415.4 804.5 416.7 804.5 411.9 804.6 410.5 804.6 397.4 804.8 413.2 804.8 412.9 804.8 407.6 805.0 401.0 805.1 398.5 805.5 411.5 805.5 397.1 805.5 411.0 805.6 410.6 805.6 404.1 805.8 412.0 806.0 413.1 806.0 409.1 806.1 406.2 806.4 414.4 806.7 412.5 806.7 410.2 806.7 415.5 806.8 394.2 806.8 399.5 806.8 400.1 806.8 391.8 807.0 402.2 807.0 396.9 807.2 388.9 807.2 413.7 807.2 414.8 807.3 414.7 807.4 410.9 807.7 409.7 807.8 410.4 808.0 409.5 808.1 405.5" fill="none" stroke="none" marker-start="url(#mk)" marker-mid="url(#mk)" marker-end="url(#mk)"/><path d="M808.6 412.1 808.8 402.0 808.9 406.3 809.0 409.6 809.1 391.6 809.2 410.3 809.2 398.1 809.3 392.0 809.6 398.3 809.7 402.8 809.8 394.0 809.8 407.2 810.1 396.9 810.2 405.5 810.5 405.9 810.5 413.3 810.6 391.3 810.7 389.6 810.7 390.2 811.0 412.9 811.2 410.8 811.4 411.8 811.5 406.1 811.8 398.6 811.8 410.2 811.9 400.9 812.0 392.0 812.2 401.1 812.3 396.8 812.3 394.8 812.4 401.5 812.6 392.9 812.8 394.1 812.9 387.5 813.0 400.2 813.2 402.2 813.2 401.5 813.2 386.8 813.5 406.1 813.6 400.9 813.6 406.8 813.9 390.2 813.9 399.0 814.2 388.6 814.2 395.4 814.5 384.5 814.5 403.8 814.8 399.0 814.9 404.9 814.9 390.1 815.0 392.0 815.2 383.6 815.2 404.4 815.3 390.1 815.5 406.7 815.6 386.1 815.7 406.1 815.9 406.1 816.0 406.3 816.1 389.2 816.3 405.8 816.5 407.8 816.5 393.9 816.6 404.7 816.7 406.3 816.8 396.5 816.9 392.9 817.2 403.7 817.2 405.5 817.2 402.9 817.3 405.4 817.6 389.1 817.6 391.5 817.8 393.2 818.0 394.3 818.1 388.3 818.4 385.6 818.4 401.6 818.5 388.1 818.8 383.5 819.0 407.3 819.0 403.7 819.0 383.1 819.2 389.7 819.2 398.1 819.2 391.6 819.3 384.0 819.6 404.1 819.8 400.8 820.0 382.7 820.3 383.8 820.3 397.7 820.5 392.5 820.6 398.7 821.0 395.7 821.5 389.7 821.5 387.7 821.9 393.0 821.9 385.8 822.2 385.0 822.2 394.4 822.7 391.8 822.9 386.7" fill="none" stroke="none" marker-start="url(#mk)" marker-mid="url(#mk)" marker-end="url(#mk)"/><path d="M118.6 387.3 118.8 392.0 119.6 395.0 121.0 396.0 123.0 395.8 126.0 396.2 129.0 396.0 132.0 396.5 134.0 396.0 136.0 395.0 137.5 392.6 139.4 391.0 140.6 393.4 140.0 395.0" fill="none" stroke="#ffff00" stroke-width="3.4" stroke-linejoin="round" stroke-linecap="round"/><path d="M262.4 400.6 268.8 402.0 278.1 405.7 284.5 407.1 288.2 410.3 290.0 411.2" fill="none" stroke="#ff4500" stroke-width="3.4" stroke-linejoin="round" stroke-linecap="round"/><path d="M290.0 411.2 296.5 411.2 305.7 413.1 317.7 414.9 322.3 416.8 327.0 416.3 334.3 417.5 341.1 421.1 347.1 422.5" fill="none" stroke="#ff0000" stroke-width="3.4" stroke-linejoin="round" stroke-linecap="round"/><path d="M348.5 422.5 357.7 422.5 366.9 423.5 371.5 424.4 377.0 423.5 381.7 424.4 387.2 427.1 394.6 427.6 402.0 429.4 407.5 429.0" fill="none" stroke="#8b4513" stroke-width="3.4" stroke-linejoin="round" stroke-linecap="round"/><path d="M408.5 429.3 412.0 430.5 414.0 430.2 416.0 431.8 418.5 432.0 420.3 433.2 422.0 432.4 424.0 431.4 427.7 430.9 430.0 431.8 433.0 431.2 436.9 431.8 440.0 432.6 443.0 432.1 446.1 432.7 449.0 433.4 452.0 433.0 455.4 433.6 458.0 434.4 460.0 434.0 463.7 433.8" fill="none" stroke="#000000" stroke-width="3.4" stroke-linejoin="round" stroke-linecap="round"/><path d="M465.5 433.9 473.8 434.8 479.3 435.3 485.0 436.0 488.0 436.5" fill="none" stroke="#483d8b" stroke-width="3.4" stroke-linejoin="round" stroke-linecap="round"/><path d="M486.9 452.2 487.1 450.5 488.0 451.8 488.3 438.5 488.3 441.4 488.3 444.5 488.3 451.5 488.8 449.2 490.0 448.6 490.8 450.9 491.1 451.1 491.6 451.5 492.8 448.5 493.4 447.3 493.6 445.1 494.3 445.6 494.6 448.9 494.8 444.6 495.5 448.2 495.7 448.7 495.9 441.3 496.1 452.7 496.2 447.8 496.5 447.7 496.8 447.7 496.8 444.3 496.9 441.9 497.1 446.7 497.1 451.3 497.1 457.2 497.2 455.7 497.7 452.8 498.0 449.7 498.0 444.4 498.0 452.9 498.1 447.4 498.2 440.2 498.3 433.6 498.4 465.3 498.4 449.4 498.6 449.3 498.9 467.9 498.9 446.7 498.9 463.6 499.0 454.4 499.2 467.4 499.2 465.3 499.3 458.3 499.5 445.1 499.7 448.9 499.7 460.4 499.9 444.5 499.9 461.0 500.0 455.6 500.3 448.2 500.3 468.9 500.3 458.9 500.5 468.4 500.7 461.9 500.8 458.0 500.8 451.7 501.0 463.3 501.1 461.1 501.3 463.0 501.5 466.0 501.5 463.2 501.6 452.8 501.7 466.1 501.9 447.6 501.9 457.1 502.2 453.4 502.2 459.8 502.4 453.1 502.6 448.7 502.9 461.4 502.9 457.8 503.1 448.1 503.3 443.3 503.7 452.6 503.7 442.2 504.2 444.6 504.2 452.2 504.2 442.2 504.8 447.3 504.9 440.3 505.2 444.9 505.5 450.9 505.7 448.3 505.8 449.8 505.9 453.2 506.3 444.2 506.4 444.0 506.4 443.4 506.6 456.8 506.6 442.5 506.7 460.1 506.8 443.1 507.1 454.2 507.2 460.6 507.5 453.4 507.5 445.5 507.7 448.3 507.7 447.7 507.7 459.4 507.8 454.1 508.1 460.8 508.2 444.7 508.5 460.4 508.5 452.2 508.6 462.3 508.9 446.8 509.0 444.2 509.0 439.0 509.1 443.6 509.1 458.3 509.1 447.4 509.2 444.1 509.8 452.7 509.9 441.5 509.9 460.0 509.9 453.0 510.3 451.7 510.4 448.3 510.4 450.4 510.4 445.3 510.8 453.4 510.8 460.1 510.9 448.5 510.9 462.8 511.1 439.3 511.1 438.0 511.5 439.8 511.7 438.9 511.9 449.3 511.9 456.3 512.0 456.5 512.2 456.1 512.3 441.0 512.3 443.3 512.4 445.5 512.6 451.4 512.7 443.9 512.9 459.4 513.0 460.7 513.1 442.9 513.3 456.9 513.4 455.2 513.5 457.6 513.6 454.9 513.7 447.9 513.7 461.9 513.8 447.2 514.0 450.8 514.1 458.6 514.1 452.7 514.2 449.1 514.5 458.8 514.6 453.2 514.7 466.8 514.7 446.0 514.8 454.0 515.1 448.7 515.2 446.3 515.2 447.2 515.3 450.5 515.5 445.6 515.6 456.7 515.6 444.1 515.8 456.0 515.9 448.5 516.0 466.3 516.1 449.9 516.2 442.9 516.2 461.7 516.4 455.7 516.7 458.1 516.7 451.1 516.8 464.3 516.8 464.9 517.2 453.1 517.4 455.5 517.4 448.5 517.4 452.4" fill="none" stroke="none" marker-start="url(#m483d8b)" marker-mid="url(#m483d8b)" marker-end="url(#m483d8b)"/><path d="M518.3 457.3 518.3 446.1 518.5 455.6 518.7 465.7 518.8 442.9 518.9 453.3 519.0 425.5 519.0 428.5 519.0 433.0 519.0 461.2 519.1 452.3 519.3 462.5 519.4 461.8 519.5 458.9 519.6 467.9 519.9 442.3 520.0 460.6 520.0 458.9 520.0 452.8 520.3 440.7 520.3 444.8 520.3 442.9 520.4 463.3 520.9 442.4 520.9 448.3 520.9 450.2 521.0 463.4 521.1 455.4 521.4 454.7 521.6 463.4 521.7 456.2 521.7 443.1 521.8 462.6 521.8 450.0 522.1 467.9 522.2 467.1 522.3 448.2 522.4 462.3 522.4 440.7 522.7 456.1 522.9 436.3 523.2 448.1 523.3 442.2 523.7 438.0 523.9 447.2 524.2 440.6 524.5 444.2 524.7 444.1 524.9 440.1 525.1 437.6 525.5 442.4 525.7 436.0 525.9 442.7 526.2 438.3 526.3 442.9 526.5 438.5 527.0 442.0 527.1 436.4 527.6 440.2 527.6 439.7 527.7 440.7 528.0 440.1 528.1 449.0 528.1 447.9 528.5 443.2 528.7 455.1 528.7 438.7 528.9 443.2 529.1 441.9 529.1 450.6 529.4 444.5 529.5 440.7 529.7 445.9 529.7 442.7 529.8 439.4 529.9 454.5 530.0 437.1 530.0 436.9 530.4 457.6 530.4 454.4 530.5 454.6 530.6 434.7 530.8 460.3 530.8 463.8 530.9 447.0 530.9 436.9 530.9 458.2 531.3 435.5 531.6 439.7 531.6 440.8 531.6 451.2 531.7 466.5 531.8 438.7 532.0 461.8 532.0 446.7 532.2 456.1 532.2 442.6 532.4 456.9 532.5 448.4 532.5 464.9 532.6 461.1 532.7 446.7 532.8 451.0 532.8 450.6 533.1 464.4 533.2 469.1 533.3 450.3 533.4 452.9 533.5 464.6 533.6 456.5 533.9 461.2 534.0 450.3 534.0 448.5 534.2 458.8 534.5 460.7 534.5 461.0 534.7 469.2 534.9 450.7 535.0 450.8 535.2 457.4 535.4 469.2 535.6 457.0 535.6 464.6 545.5 464.6 545.6 466.4 546.4 466.0 546.4 459.3 546.8 467.3 547.0 456.2 547.3 456.9 547.5 453.0 547.5 464.7 547.7 454.4 547.8 455.6 548.0 451.6 548.5 448.0 548.5 452.6 548.9 459.7 549.0 463.1 549.0 450.3 549.3 447.0 549.5 446.0 549.8 453.6 549.8 458.6 550.0 445.4 550.3 446.3 550.4 446.6 550.9 447.7 550.9 447.9 551.1 449.0 551.5 445.6 552.0 445.2 552.1 446.7 552.8 449.4 553.5 447.5 553.5 449.0 553.8 446.3 554.0 429.6 554.0 432.5 554.0 437.3 554.2 445.4 554.2 450.8 554.9 443.0 555.3 449.8 555.3 450.5 555.7 448.4 555.9 447.5 556.2 442.8 556.3 443.6 557.0 451.0 557.0 445.6 557.1 442.2 557.5 442.3 557.5 451.2 557.6 457.3 557.6 443.4 557.9 442.7 558.1 455.2 558.2 452.5 558.3 453.5 558.3 429.6 558.3 432.5 558.3 436.4 558.9 447.6 559.0 446.3 559.0 456.0 559.1 441.8 559.5 443.8 559.5 444.8 559.7 444.9 559.9 451.0 560.0 443.5 560.1 442.5 560.3 445.2 560.5 449.9 560.6 441.2 560.9 440.9 561.0 453.3 561.2 443.1 561.2 443.5 561.4 451.2 562.0 441.1 562.0 445.5 562.2 440.6 562.3 449.5 562.6 434.7 562.7 439.0 563.0 444.3 563.3 445.0 563.5 442.5 563.6 444.5 564.0 448.8 564.3 442.8 564.4 448.4 564.7 440.7 564.9 446.9 565.3 446.2 565.5 449.2 565.6 445.5 566.5 441.5 566.5 441.8 566.8 439.7 567.0 440.5 567.3 450.0 567.3 449.4 567.6 446.2 568.0 442.9 568.4 447.5 568.4 440.3 568.7 439.4 568.8 450.1 569.1 443.8 569.3 441.5 569.8 446.4 569.9 443.2 569.9 438.7 570.1 438.5 570.4 443.1 570.8 443.7 570.9 447.5 570.9 448.8 571.1 438.7 571.4 434.1 571.5 446.2 571.6 449.8 571.7 449.0 571.9 439.0 572.2 434.5 572.5 438.7 572.5 445.8 572.7 444.4 572.9 440.1 572.9 441.8 573.1 428.0 573.3 435.2 573.4 447.7 573.5 432.6 573.7 429.3 573.7 430.0 573.9 431.4 574.0 450.0 574.0 456.1 574.1 447.7 574.3 444.3 574.3 430.2 574.5 447.5 574.5 460.2 574.6 436.6 574.7 453.2 574.7 431.3 574.8 441.8 575.0 456.4 575.1 434.3 575.3 460.2 575.4 447.6 575.4 429.9 575.5 458.9 575.5 449.0 575.6 438.4 575.6 458.9 575.8 453.8 575.8 447.5 575.9 449.4 576.2 437.9 576.3 462.0 576.5 452.6 576.5 447.1 576.5 450.7 576.5 439.8 576.6 443.0 576.6 449.5 576.7 461.3 576.8 427.5 577.0 462.3 577.0 449.4 577.1 458.9 577.2 434.6 577.4 451.2 577.4 448.0 577.4 460.4 577.4 459.3 577.7 460.2 577.7 444.2 577.7 442.6 578.0 441.2 578.0 451.4" fill="none" stroke="none" marker-start="url(#m0000ff)" marker-mid="url(#m0000ff)" marker-end="url(#m0000ff)"/><path d="M576.8 430.6 576.8 434.4 577.0 456.7 577.3 444.0 577.4 440.1 577.7 450.5 577.9 427.2 578.0 385.9 578.2 447.4 578.3 427.1 578.3 382.9 578.6 460.5 578.7 427.6 578.8 394.6 578.9 432.2 578.9 441.2 579.2 429.9 579.4 391.2 579.5 423.0 579.6 454.4 579.6 451.2 579.8 395.5 579.9 457.1 580.0 430.8 580.1 387.5 580.1 446.5 580.4 459.0 580.6 452.7 580.7 423.3 580.9 422.9 580.9 431.7 581.0 469.7 581.1 453.1 581.4 462.4 581.5 425.3 581.6 425.8 581.6 428.8 581.7 410.8 581.8 436.5 582.0 410.8 582.1 437.4 582.1 462.4 582.1 436.4 582.4 468.2 582.6 433.4 582.7 462.3 582.8 448.3 582.9 415.1 583.0 447.2 583.2 452.2 583.3 436.8 583.4 443.5 583.5 467.5 583.8 414.2 584.0 454.5 584.1 428.9 584.2 429.4 584.4 419.5 584.5 458.9 584.6 436.9 584.8 435.6 585.0 430.8 585.1 446.0 585.4 434.7 585.5 445.9 585.9 445.8 586.1 415.4 586.1 419.2 586.2 423.4 586.2 429.1 586.2 463.4 586.6 444.8 586.7 442.0 586.7 457.1 586.8 439.7 587.0 435.4 587.1 458.4 587.3 443.0 587.3 426.8 587.5 453.7 587.8 465.1 588.1 454.9 588.1 439.8 588.4 453.4 588.6 431.1 588.7 427.0 588.7 421.5 588.8 449.2 588.8 443.8 589.0 385.8 589.0 388.9 589.1 383.2 589.2 464.0 589.4 437.4 589.7 459.3 589.8 433.5 589.9 442.3 590.1 452.2 590.5 418.6 590.6 453.8 590.7 446.2 590.7 445.3 590.9 434.5 591.0 386.2 591.0 458.7 591.2 445.9 591.3 438.0 591.3 428.7 591.4 444.3 591.7 409.1 592.0 427.4 592.2 439.4 592.2 411.2 592.4 456.4 592.6 454.6 592.7 441.3 592.8 452.0 592.9 454.5 592.9 390.5 593.1 441.6 593.6 447.6 593.7 434.7 593.7 430.7 593.8 438.8 593.9 468.4 594.2 450.2 594.2 387.1 594.3 460.2 594.5 467.6 594.5 462.9 594.8 428.8 594.9 465.0 595.0 429.4 595.4 402.2 595.6 452.3 595.6 433.0 595.6 460.5 595.7 398.5 595.7 390.3 596.0 394.7 596.1 466.6 596.1 444.5 596.2 452.8 596.2 411.5 596.5 466.2 596.5 432.9 596.9 461.7 596.9 439.4 597.0 431.5 597.3 428.3 597.6 428.8 597.6 443.9 597.8 425.2 597.9 435.1 598.0 440.5 598.0 444.3 598.3 428.9 598.4 451.6 598.5 449.8 599.1 416.7 599.1 451.6 599.2 438.5 599.4 448.5 599.7 443.3 599.8 399.4 599.9 460.2 600.2 443.8 600.3 430.1 600.4 437.0 600.9 459.1 601.0 456.8 601.1 415.6 601.3 463.3 601.7 446.7 601.7 450.0 601.9 431.3 602.0 449.1 602.2 450.3 602.3 464.7 602.4 429.5 602.5 453.9 602.7 399.7 602.8 448.4 602.9 414.8 603.2 442.9 603.2 429.5 603.4 454.5 603.5 460.1 603.5 429.4 603.8 454.8 604.0 468.1 604.0 421.2 604.2 441.8 604.3 441.7 604.3 446.9 604.5 446.8 604.9 424.3 605.1 445.1 605.1 435.1 605.1 456.5 605.4 450.5 605.6 445.0 605.7 431.9 605.7 401.1 605.9 463.5 605.9 457.2 605.9 453.0 606.3 464.1 606.3 448.1 606.8 433.5 607.0 467.6 607.2 442.4 607.3 434.9 607.4 430.4 607.4 432.2 608.0 430.7 608.1 438.8 608.3 433.8 608.4 461.7 608.9 462.8 609.2 394.8 609.2 436.8 609.3 443.4 609.7 431.1 610.0 417.0 610.0 420.8 610.1 443.7 610.1 413.7 610.1 442.6 610.3 447.3 610.4 452.9 610.7 392.5 610.8 429.6 610.8 409.2 610.9 391.6 610.9 435.2 611.0 387.9 611.0 398.6 611.1 384.9 611.2 394.8 611.3 402.4 611.5 445.6 611.6 417.1 611.6 447.9 612.1 453.0 612.2 438.8 612.6 433.3 612.7 444.6 612.8 452.2 613.1 400.7 613.1 432.7 613.2 396.8 613.3 427.3 613.3 404.3 613.3 412.0 613.5 447.9 613.5 408.7 613.9 430.8 614.1 435.1 614.1 437.5 614.1 424.5 614.3 454.5 614.6 428.2 614.8 454.3 615.2 430.6 615.2 459.4 615.3 429.5 615.4 434.5 615.9 450.1 616.1 428.0 616.1 453.3 616.3 448.3 616.6 440.9 616.7 452.5 616.7 385.0 616.8 456.8 616.8 389.5 616.9 412.2 617.0 393.9 617.2 449.0 617.2 399.2 617.3 437.6 617.3 391.7 617.4 396.1 617.4 463.4 617.5 399.1 617.5 403.4 617.6 442.9 617.6 407.6 618.0 414.3 618.0 462.0 618.1 440.7 618.2 458.6 618.5 462.4 618.7 444.8 618.7 428.7 619.0 436.4 619.1 433.1 619.1 456.7 619.3 448.2 619.4 431.7 619.5 431.2 620.1 467.5 620.2 465.0 620.2 452.8 620.6 460.5 620.7 450.2 620.7 447.9 620.8 456.3 620.8 460.9 621.1 462.1 621.1 411.0 621.5 430.0 621.6 429.5 621.7 393.8 621.8 396.8 622.2 442.2 622.2 438.6 622.2 442.1 622.3 390.1 622.3 439.8 622.4 462.3 622.7 430.1 623.0 432.1 623.1 433.3 623.2 464.3 623.3 441.2 623.3 449.7 623.4 428.2 624.1 456.7 624.1 443.5 624.4 450.2 624.6 431.4 624.6 461.4 624.7 410.5 624.9 440.2 625.1 444.8 625.2 427.5 625.4 460.0 625.5 425.3 625.5 396.6 625.6 427.8 625.8 408.4 625.9 400.7 625.9 431.4 625.9 404.6 626.1 445.1 626.1 434.8 626.4 425.0 626.6 445.6 627.0 408.0 627.0 430.3 627.1 388.0 627.2 448.0 627.2 445.3 627.4 448.9 627.5 401.4 627.7 425.6 628.0 396.7 628.0 456.4 628.1 444.3 628.2 403.3 628.2 435.5 628.5 389.2 628.5 429.6 628.7 437.0 629.0 438.5 629.1 443.2 629.2 396.8 629.3 433.9 629.4 455.1 629.5 452.0 629.5 401.3 629.6 405.2 629.8 444.2 629.8 384.8 629.8 435.2 630.0 396.8 630.2 440.2 630.5 450.9 630.5 437.2 630.6 430.0 630.7 393.8 630.8 450.9 631.0 456.1 631.0 386.4 631.2 443.9 631.3 431.6 631.5 417.9 631.5 423.2 631.6 444.6 631.6 439.0 631.8 406.2 632.0 426.0 632.0 450.9 632.0 460.9 632.3 442.9 632.3 449.7 632.3 436.6 632.6 428.9 632.7 395.1 632.9 449.3 633.0 455.8 633.1 388.8 633.1 447.4 633.4 422.1 633.6 384.4 633.7 467.2 633.7 434.2 633.8 463.0 633.9 458.0 633.9 389.6 634.2 457.1 634.2 437.4 634.4 423.0 634.6 434.6 634.7 403.5 634.7 442.5 634.8 424.6 634.9 454.7 635.0 412.1 635.2 409.7 635.2 440.0 635.3 387.3 635.5 459.7 635.6 422.6 635.7 452.0 635.7 405.4" fill="none" stroke="none" marker-start="url(#m00bfff)" marker-mid="url(#m00bfff)" marker-end="url(#m00bfff)"/><path d="M634.4 428.9 634.4 441.6 634.4 444.6 634.7 399.1 634.8 456.0 634.8 467.4 634.9 439.0 635.2 417.1 635.6 463.0 635.6 425.6 635.7 453.6 635.7 445.9 635.9 464.1 635.9 398.0 636.1 427.9 636.1 400.6 636.2 413.4 636.4 437.1 636.5 440.6 636.6 455.6 636.7 440.7 636.8 436.4 637.0 460.8 637.2 455.5 637.3 437.7 637.3 420.8 637.5 467.8 637.5 393.0 637.8 403.0 637.9 400.2 637.9 448.4 637.9 444.5 638.0 419.5 638.0 443.2 638.1 431.5 638.2 421.7 638.2 454.3 638.3 422.6 638.3 410.8 638.4 395.1 638.5 439.8 638.5 466.9 638.5 425.7 638.7 433.2 638.7 441.0 638.7 427.1 638.8 426.7 638.9 452.2 639.0 455.7 639.0 423.5 639.1 426.0 639.1 428.2 639.1 420.6 639.1 443.3 639.2 429.2 639.5 420.1 639.7 440.0 639.7 440.2 639.7 429.1 639.8 442.7 639.9 444.4 639.9 428.7 640.0 427.6 640.0 401.9 640.0 420.3 640.5 431.0 640.6 435.0 640.6 445.6 640.7 434.7 640.7 440.5 641.0 417.7 641.0 432.8 641.2 415.8 641.2 440.5 641.3 429.4 641.4 445.1 641.5 433.4 641.6 433.1 641.7 422.0 641.8 434.8 641.9 429.9 642.0 439.2 642.0 442.4 642.2 404.2 642.3 435.5 642.5 444.6 642.5 430.6 642.6 437.5 642.7 423.9 643.0 415.8 643.1 437.6 643.1 423.9 643.1 445.5 643.4 425.2 643.5 441.6 643.5 435.4 643.6 432.3 643.8 438.8 643.8 442.0 643.9 428.1 644.1 415.7 644.1 425.4 644.2 406.1 644.3 444.6 644.3 423.9 644.3 430.3 644.5 439.4 644.7 438.6 645.0 388.0 645.0 415.7 645.1 428.9 645.1 439.5 645.1 443.9 645.2 424.0 645.3 441.9 645.5 435.3 645.5 435.1 645.6 439.1 645.7 434.4 645.8 445.7 645.8 431.2 645.8 407.9 645.9 444.4 646.0 428.3 646.2 429.8 646.4 440.0 646.6 431.5 646.6 390.2 646.7 435.8 646.7 440.8 646.8 445.3 646.8 422.8 646.9 440.3 647.0 418.6 647.3 441.2 647.4 418.6 647.5 440.5 647.5 416.4 647.7 418.9 647.7 392.7 647.8 439.1 647.8 421.8 647.8 410.2 648.0 439.7 648.1 425.3 648.3 431.4 648.3 421.2 648.5 436.7 648.5 427.8 648.8 433.7 648.9 422.1 649.0 418.1 649.0 429.5 649.2 392.7 649.2 411.0 649.2 430.8 649.3 428.5 649.3 394.8 649.3 407.8 649.3 399.3 649.4 405.8 649.5 443.2 649.5 421.5 649.6 402.4 649.7 389.8 649.7 395.9 649.7 436.9 649.7 412.2 649.8 421.8 649.9 386.6 649.9 434.9 650.0 439.3 650.1 439.1 650.1 438.9 650.3 423.4 650.5 389.8 650.6 430.3 650.6 396.9 650.6 423.4 650.6 386.2 650.6 439.6 650.7 397.0 650.7 393.0 650.8 427.0 651.2 421.6 651.2 439.7 651.2 423.1 651.3 429.4 651.4 438.0 651.4 436.1 651.7 436.4 651.8 438.4 651.9 423.3 651.9 421.1 651.9 399.5 652.0 417.2 652.2 419.7 652.4 438.7 652.4 435.8 652.4 428.6 652.7 440.8 652.8 440.9 653.0 441.4 653.1 424.8 653.2 424.7 653.3 432.5 653.4 437.0 653.6 428.2 653.7 428.0 653.8 401.8 653.9 428.5 653.9 432.9 653.9 432.6 654.1 423.4 654.3 420.5 654.4 441.5 654.5 425.6 654.7 418.7 654.9 423.5 655.1 403.9 655.2 444.0 655.2 439.1 655.2 429.7 655.3 435.8 655.4 431.8 655.5 424.1 655.6 426.6 655.9 434.0 655.9 437.0 656.1 387.0 656.1 444.8 656.1 437.4 656.1 442.1 656.1 426.3 656.3 423.4 656.5 439.6 656.5 439.6 656.5 456.0 656.6 452.9 656.7 450.5 656.7 447.5 656.7 440.2 656.8 438.5 656.9 422.7 656.9 393.4 656.9 424.4 657.0 442.3 657.1 389.3 657.3 431.8 657.5 429.2 657.5 424.0 657.6 441.1 657.8 427.3 657.8 429.7 657.9 419.1 658.4 427.0 658.6 422.5 658.7 441.8 658.7 392.3 658.8 431.7 658.8 440.3 658.9 437.5 659.0 396.6 659.2 440.9 659.3 429.8 659.6 424.1 659.7 424.7 659.8 432.0 660.0 440.2 660.2 429.6 660.3 431.6 660.6 427.7 660.6 430.0 660.7 437.4 660.9 439.1 661.1 433.8 661.2 424.6 661.2 439.1 661.4 437.5 661.6 419.6 661.7 435.2 661.8 425.5 661.8 435.4 661.8 419.8 662.1 393.6 662.2 390.2 662.3 427.8 662.3 430.3 662.5 425.3 662.8 421.3 663.0 432.3 663.1 420.9 663.2 401.2 663.3 436.2 663.3 411.7 663.4 413.9 663.4 421.8 663.4 419.1 663.4 395.8 663.5 417.0 663.5 393.0 663.5 406.2 663.5 403.6 663.5 387.6 663.6 435.6 663.7 421.7 663.7 398.3 663.7 384.8 663.8 408.6 663.8 390.2 663.8 427.4 664.0 436.4 664.0 425.9 664.3 431.7 664.4 437.4 664.7 427.8 664.8 421.4 665.0 427.6 665.0 403.7 665.0 427.4 665.3 395.4 665.4 391.0 665.4 399.4 665.6 425.3 665.6 424.9 665.6 406.9 665.6 437.4 665.8 430.7 666.1 430.8 666.2 427.5 666.4 438.9 666.4 426.3 666.6 433.9 666.7 420.7 666.8 399.5 666.8 428.0 666.8 421.7 666.9 419.0 667.1 402.9 667.2 396.3 667.4 426.1 667.4 435.5 667.6 433.3 667.7 435.9 667.8 438.9 668.0 424.3 668.0 432.3 668.3 423.8 668.4 427.1 668.5 427.1 668.7 420.0 669.0 435.8 669.0 426.8 669.2 434.4 669.4 428.4 669.6 427.3 669.7 427.1 669.8 432.1 669.9 436.8 670.0 418.9 670.2 433.6 670.3 421.1 670.4 428.0 670.5 427.2 670.7 426.1 670.9 426.1 671.0 431.0 671.2 422.1 671.3 429.6 671.6 417.1 671.6 432.7 671.8 428.3 671.8 425.4 672.0 424.1 672.4 416.9 672.5 420.8 672.5 420.0 672.9 431.1 673.1 421.7 673.2 426.2 673.5 428.2 673.6 397.4 673.6 422.1 673.6 419.1 673.9 430.6 673.9 421.4 674.2 417.1 674.3 427.6 674.6 419.0 674.7 421.5 674.9 432.3 674.9 434.7 675.0 414.9 675.2 430.2 675.3 424.4 675.5 421.1 675.6 427.8 675.8 435.1 675.8 418.2 675.8 419.5 676.2 427.2 676.3 414.9 676.3 413.7 676.3 425.0 676.4 427.7 676.9 428.0 677.0 424.7 677.2 427.7 677.2 425.1 677.4 423.2 677.5 436.5 677.5 428.6 677.6 415.0 677.9 430.3 678.0 417.4 678.0 417.7 678.0 422.8 678.1 394.3 678.1 397.1 678.2 402.9 678.2 411.9 678.4 412.6 678.4 424.9 678.4 409.0 678.4 434.3 678.4 406.3 678.5 400.1 678.8 419.8 679.0 425.6 679.1 423.3 679.3 416.0 679.4 414.8 679.5 425.3 679.7 415.2 679.9 412.0 680.0 390.2 680.1 433.4 680.2 423.4 680.6 429.2 680.7 412.4 680.7 422.6 680.8 386.0 681.0 391.1 681.1 394.5 681.1 422.4 681.5 413.7 681.6 421.8 681.7 429.5 681.8 415.5 681.9 413.6 681.9 442.8 682.2 430.9 682.3 402.4 682.4 442.6 682.6 453.5 682.9 402.4 682.9 420.5 683.0 430.2 683.5 412.1 683.5 424.8 683.7 443.1 683.8 436.6 683.8 389.1 683.9 434.3 684.2 447.1 684.3 415.8 684.4 388.3 684.5 457.9 684.6 394.9 684.9 414.3 685.0 449.2 685.1 433.0 685.1 456.6 685.4 451.2 685.6 438.9 685.7 434.7 685.9 429.0 686.0 402.5 686.1 458.5 686.2 457.5 686.5 392.0 686.5 453.2 686.5 440.2 686.8 422.4 686.9 426.6 687.2 433.1 687.2 456.6 687.3 385.1 687.3 417.6 687.5 454.1 688.2 402.7 688.2 426.1 688.2 438.9 688.3 413.7 688.4 449.3 688.4 427.9 688.7 428.7 688.9 391.5 688.9 410.3 689.2 429.7 689.3 454.0 689.4 419.1 689.5 457.8 689.5 404.1 689.8 434.9 689.9 392.3 689.9 438.9 690.3 439.2 690.6 400.3 690.7 390.0 690.8 437.1 690.9 404.0 691.1 400.9 691.3 387.9 691.3 408.8 691.5 455.6 691.8 405.3 691.8 425.8 691.9 408.4 692.0 410.5" fill="none" stroke="none" marker-start="url(#m00ffff)" marker-mid="url(#m00ffff)" marker-end="url(#m00ffff)"/><path d="M693.3 413.6 693.4 429.3 693.5 411.8 693.5 401.3 693.6 432.3 693.8 388.8 693.8 402.0 694.0 430.4 694.1 417.3 694.1 428.4 694.4 395.4 694.4 409.2 694.6 425.1 694.7 418.2 694.8 406.8 694.9 432.1 694.9 437.2 695.1 397.8 695.3 438.5 695.4 396.0 695.5 438.1 695.7 407.1 695.7 391.7 695.8 420.7 695.8 415.5 695.9 408.5 696.1 419.2 696.2 432.1 696.3 425.9 696.5 423.3 696.6 439.5 696.7 439.8 696.7 415.3 696.8 431.2 696.9 401.7 696.9 391.2 697.0 410.7 697.0 419.8 697.3 392.6 697.6 429.7 697.6 413.5 697.7 414.9 697.7 392.9 697.8 390.4 697.9 430.0 698.1 433.4 698.1 411.3 698.1 433.3 698.4 395.0 698.5 425.9 698.5 417.1 698.7 409.5 698.9 391.6 698.9 391.7 699.1 387.9 699.1 383.0 699.1 424.3 699.4 433.7 699.4 394.1 699.5 406.1 699.5 413.6 699.7 426.4 699.8 432.1 699.9 391.4 700.1 427.8 700.1 409.9 700.1 402.9 700.5 402.8 700.5 394.6 700.6 419.2 700.6 433.9 700.8 385.3 700.9 416.5 701.0 418.8 701.2 424.7 701.3 393.6 701.3 428.1 701.5 426.2 701.6 418.0 701.8 432.5 702.1 435.9 702.1 413.7 702.1 417.7 702.2 428.6 702.3 394.0 702.5 390.2 702.7 391.3 702.7 383.9 702.8 388.5 702.9 415.9 703.0 426.3 703.1 435.0 703.3 403.1 703.3 434.7 703.5 432.1 703.7 433.5 703.8 431.0 703.8 420.4 703.8 412.7 704.1 426.5 704.3 431.5 704.5 417.7 704.5 408.9 704.6 406.2 704.8 385.6 704.8 395.5 705.1 422.3 705.1 386.1 705.3 449.6 705.4 418.8 705.4 460.2 705.4 397.0 705.5 446.9 705.6 397.3 705.6 444.1 705.6 393.0 705.7 452.2 705.8 454.5 705.8 457.4 705.8 398.1 705.9 404.3 706.0 404.3 706.1 388.5 706.4 417.0 706.4 430.6 706.5 402.6 706.6 433.9 706.7 414.9 706.8 409.6 706.8 414.8 707.0 398.4 707.2 415.8 707.4 388.4 707.4 422.9 707.5 422.9 707.5 388.8 707.7 395.1 707.8 409.0 708.0 408.0 708.0 416.1 708.0 407.2 708.1 417.2 708.3 407.6 708.4 409.7 708.5 422.1 708.6 416.4 709.0 400.0 709.0 401.9 709.1 396.9 709.1 436.6 709.2 407.7 709.4 407.7 709.5 402.5 709.6 431.8 709.7 390.5 709.7 407.8 709.8 420.4 709.9 432.0 710.0 390.7 710.2 428.7 710.2 436.3 710.3 386.1 710.3 389.8 710.6 432.6 710.7 408.3 710.7 398.4 710.8 426.4 710.8 406.0 710.8 435.2 710.8 420.0 711.0 425.5 711.3 398.2 711.3 415.5 711.4 414.0 711.5 396.2 711.7 386.1 711.8 384.2 711.8 421.1 711.8 400.6 712.0 392.6 712.2 418.0 712.3 386.4 712.3 436.9 712.5 397.4 712.5 403.2 712.7 398.5 712.8 443.3 712.8 403.5 712.9 406.9 713.1 425.1 713.1 419.5 713.4 424.0 713.5 439.1 713.6 418.3 713.7 390.7 713.7 418.6 713.8 388.8 713.8 393.1 714.0 412.5 714.2 418.3 714.2 392.6 714.3 401.3 714.3 438.4 714.6 395.5 714.6 431.3 714.7 387.5 714.9 383.7 715.1 422.1 715.1 392.5 715.2 444.3 715.2 391.6 715.5 436.1 715.6 424.9 715.6 406.3 715.6 433.8 715.7 390.2 715.9 441.1 716.0 429.5 716.2 421.9 716.2 426.6 716.2 437.7 716.3 393.8 716.3 388.7 716.4 383.4 716.7 428.1 716.7 440.1 716.9 416.6 717.1 389.1 717.2 397.7 717.2 443.0 717.2 441.5 717.3 422.3 717.4 390.4 717.5 387.0 717.6 404.6 718.1 383.9 718.1 435.5 718.2 427.6 718.2 392.7 718.3 405.3 718.6 429.3 718.6 432.5 718.7 437.6 718.7 419.8 718.8 386.1 718.8 412.8 719.0 430.0 719.2 433.4 720.6 432.1 720.6 439.3 720.9 435.9 721.0 427.9 721.4 445.5 722.3 430.8 722.4 427.8 722.4 427.9 722.6 420.9 722.8 424.1 722.8 424.3 725.1 440.5 725.3 398.4 725.3 409.6 725.3 417.4 725.4 420.8 725.4 413.1 725.5 401.5 725.5 395.2 725.5 405.3 725.6 437.3 726.3 387.3 730.0 437.5 730.4 441.1" fill="none" stroke="none" marker-start="url(#m32cd32)" marker-mid="url(#m32cd32)" marker-end="url(#m32cd32)"/><path d="M749.5 400.4 749.6 382.2 749.6 409.2 749.6 417.6 749.6 413.3 749.7 398.9 749.9 409.9 749.9 386.1 749.9 401.3 749.9 418.3 750.2 406.8 750.3 418.3 750.3 382.5 750.4 400.1 750.5 414.0 750.6 389.5 750.7 411.8 750.8 406.6 750.8 417.3 751.0 406.2 751.1 400.8 751.1 389.2 751.2 403.2 751.3 420.8 751.4 405.0 751.4 412.2 751.4 411.2 751.4 382.6 751.6 415.3 751.6 385.9 751.8 419.2 752.0 399.9 752.2 391.0 752.2 402.1 752.2 420.4 752.2 411.8 752.3 405.3 752.4 385.0 752.4 416.0 752.4 411.0 752.5 415.3 752.6 408.4 752.9 382.4 752.9 413.0 752.9 407.0 753.0 418.6 753.1 392.5 753.2 413.3 753.2 401.7 753.3 410.8 753.4 388.1 753.4 383.4 753.5 419.8 753.7 407.4 753.7 412.1 753.8 411.4 754.0 417.2 754.0 393.6 754.1 416.1 754.1 421.5 754.2 388.0 754.3 404.2 754.4 386.4 754.5 407.4 754.5 410.7 754.5 391.8 754.6 407.6 754.8 397.4 754.9 399.8 755.0 419.2 755.1 394.8 755.1 407.2 755.2 419.0 755.2 402.8 755.4 414.5 755.6 405.3 755.6 413.0 755.7 382.7 755.7 407.1 755.9 402.5 755.9 414.6 756.0 396.4 756.0 392.4 756.1 402.8 756.2 406.9 756.3 412.1 756.4 399.9 756.5 414.8 756.6 405.3 756.7 392.2 756.8 411.0 756.8 394.3 756.8 410.3 756.8 402.1 756.9 394.8 757.4 409.9 757.4 393.0 757.4 407.3 757.5 399.7 757.7 402.5 757.9 413.5 758.0 399.8 758.0 401.8 758.2 403.7 758.2 406.5 758.3 407.7 758.5 395.2 758.5 395.8 758.5 399.8 758.6 408.8 758.7 401.4 758.8 390.7 758.8 387.1 758.8 406.6 758.9 409.2 758.9 401.6 759.3 409.2 759.6 403.5 759.7 412.6 759.8 401.1 759.9 403.1 760.1 414.8 760.2 407.0 760.6 410.4 760.6 410.7 760.7 406.3 760.8 402.3 760.8 400.0 761.1 402.5 761.3 418.3 761.4 413.0 761.4 413.2 761.6 405.3 761.8 417.2 761.9 418.9 761.9 412.9 762.1 403.1 762.3 404.8 762.6 414.0 762.6 399.8 762.7 417.1 762.9 393.2 763.0 407.1 763.0 399.9 763.0 402.3 763.1 411.4 763.2 420.2 763.4 420.4 763.5 406.3 763.5 402.0 763.6 399.6 763.6 411.8 763.6 396.1 763.8 417.1 763.8 401.1 763.9 400.6 763.9 389.8 764.0 406.3 764.3 399.6 764.4 419.1 764.5 416.7 764.6 386.6 764.6 406.8 764.7 391.2 764.8 408.7 764.8 388.5 764.8 410.4 765.0 412.5 765.1 412.1 765.3 403.7 765.4 407.0 765.4 386.5 765.5 387.2 765.7 416.3 765.8 415.5 766.0 410.3 766.1 389.2 766.2 414.3 766.3 411.4 766.3 411.6 766.3 401.3 766.6 410.8 766.7 393.7 766.8 390.6 766.9 414.5 767.2 402.0 767.2 399.8 767.2 386.4 767.3 410.0 767.3 391.1 767.4 404.3 767.6 410.7 767.6 405.3 767.7 385.0 767.8 406.4 767.8 411.7 767.9 404.3 768.1 392.0 768.1 402.6 768.2 401.2 768.3 413.2 768.5 415.1 768.5 400.0 768.6 392.2 768.7 417.8 768.7 383.6 768.8 419.4 768.9 388.3 769.0 409.1 769.0 412.0 769.1 404.1 769.2 383.1 769.3 416.2 769.5 400.2 769.5 408.9 769.7 387.5 769.7 410.4 769.7 405.4 769.7 385.9 769.8 406.9 769.8 384.1 769.9 406.2 769.9 420.6 770.0 415.6 770.2 417.0 770.3 395.2 770.4 409.6 770.4 409.1 770.5 414.1 770.5 406.6 770.5 417.3 770.8 404.8 770.9 409.8 771.0 408.5 771.0 388.5 771.1 395.9 771.1 414.6 771.3 399.0 771.3 402.6 771.7 417.7 771.7 409.5 771.7 413.0 771.7 408.3 771.8 407.3 771.9 399.9 772.0 398.6 772.1 415.3 772.1 392.9 772.2 401.7 772.3 401.2 772.3 400.0 772.4 413.6 772.4 418.3 772.5 397.8 772.6 400.4 772.7 400.9 772.8 402.1 773.0 414.8 773.1 388.2 773.2 412.8 773.2 416.6 773.3 415.3 773.3 387.7 773.5 400.1 773.5 406.9 773.5 414.5 773.7 395.7 773.8 414.8 774.0 400.1 774.0 390.4 774.0 410.5 774.2 399.0 774.3 385.9 774.4 401.8 774.5 389.5 774.5 411.1 774.6 409.4 774.7 411.5 774.9 382.6 775.0 416.4 775.0 403.7 775.1 409.8 775.1 394.6 775.1 403.5 775.3 382.8 775.3 404.1 775.4 401.5 775.4 409.3 775.5 383.3 775.7 405.4 775.9 417.5 775.9 411.8 776.1 396.6 776.1 408.1 776.1 388.5 776.2 412.0 776.3 398.5 776.4 405.9 776.5 385.9 776.6 406.3 776.6 405.0 776.7 411.9 776.9 389.9 777.1 403.4 777.1 383.5 777.1 411.3 777.1 414.6 777.2 414.4 777.3 405.4 777.4 385.2 777.6 413.4 777.6 415.0 777.8 407.4 777.8 411.5 777.9 413.6 778.1 400.6 778.3 417.6 778.4 404.4 778.5 402.7 778.5 404.8 778.9 402.2 778.9 401.2 779.1 401.9 779.1 415.5 779.3 406.9 779.6 415.7 779.7 415.3 779.9 399.9 779.9 413.6 780.2 416.8 780.2 411.2 780.4 417.0 780.5 409.9 780.7 402.0 780.7 414.8 781.0 418.1 781.1 416.6 781.1 408.5 781.2 415.6 781.2 394.0 781.2 393.6 781.3 406.4 781.5 387.2 781.5 412.1 781.6 411.7 781.6 403.8 781.7 386.1 781.8 417.2 781.9 403.6 781.9 402.9 782.0 389.2 782.2 413.9 782.3 417.1 782.4 408.8 782.5 412.1 782.7 403.1 782.7 390.9 782.8 408.9 782.8 413.8 782.9 401.2 782.9 417.1 783.1 399.9 783.2 404.4 783.4 414.1 783.4 391.5 783.6 411.9 783.7 418.1 783.7 417.2 783.7 415.2 783.9 401.5 784.1 411.8 784.1 398.5 784.1 416.9 784.1 387.6 784.2 408.9 784.2 415.0 784.3 411.1 784.4 417.9 784.5 413.6 784.5 394.6 784.6 413.1 784.7 416.3 784.8 386.9 785.0 407.6 785.1 402.1 785.1 401.2 785.1 404.5 785.3 409.7 785.3 406.4 785.3 383.7 785.4 384.7 785.5 412.4 785.7 414.3 785.7 397.7 785.7 396.5 785.9 400.9 786.0 403.4 786.0 405.6 786.0 400.5 786.2 398.5 786.4 386.2 786.5 411.9 786.5 406.3 786.5 401.5 786.5 396.7 786.5 390.4 786.5 405.4 786.9 411.6 786.9 401.1 787.1 414.3 787.2 414.3 787.2 384.8 787.2 410.0 787.4 398.7 787.6 390.4 787.6 389.9 788.3 384.0 788.4 400.4 788.6 382.9 788.7 383.9 789.3 398.0 789.3 386.1 789.8 394.1 789.8 394.1 790.0 402.4 790.5 386.9 790.9 402.0 790.9 403.7 790.9 405.4 791.0 389.9 791.2 402.3 791.5 400.7 791.5 390.5 791.7 402.7 791.8 408.7 792.0 408.0 792.1 388.1 792.2 384.8 792.2 409.9 792.3 408.4 792.5 400.4 792.6 405.1 792.7 385.5 792.8 409.5 793.0 389.5 793.1 401.0 793.1 401.0 793.1 395.0 793.5 413.1 793.5 411.8 793.7 412.1 793.7 392.1 793.8 395.0 794.0 412.5 794.0 406.2 794.2 410.0 794.2 389.9 794.3 388.5 794.4 412.8 794.5 402.1 794.5 407.5 794.6 393.8 794.7 382.0 794.8 408.0 795.0 404.8 795.0 400.8 795.1 398.6 795.2 397.9 795.3 402.6 795.5 391.1 795.5 400.3 795.6 400.1 795.8 391.9 795.9 410.1 796.1 408.2 796.3 413.1 796.4 389.5 796.4 400.9 796.4 396.9 796.5 400.7 796.7 396.0 796.8 395.3 796.8 405.6 797.2 409.0 797.2 405.3 797.3 393.7 797.6 413.0 797.6 407.3 797.7 403.7 797.8 402.9 797.8 403.9 798.2 401.8 798.2 401.8 798.5 397.1 798.5 399.6 798.5 409.9 798.7 411.8 798.9 405.6 799.0 409.8 799.1 406.0 799.3 413.9 799.4 410.9 799.4 397.5 799.5 406.8 800.0 414.6 800.0 393.8 800.1 410.7 800.2 410.4 800.3 400.8 800.5 407.3 800.7 403.8 800.8 416.2 800.8 412.6 800.8 415.4 801.2 410.4 801.2 396.7 801.5 406.6 801.5 402.5 801.7 403.5 801.7 401.2 801.8 405.7 801.8 402.9 801.8 406.8 802.1 412.7 802.2 401.1 802.4 409.4 802.5 407.0 802.5 408.7 802.6 401.8 802.9 410.4 803.0 410.2 803.0 408.3 803.1 417.4 803.1 399.7 803.3 399.4 803.3 401.3 803.4 405.1 803.6 412.1 803.7 402.5 803.9 406.8 804.1 406.3 804.2 416.6 804.3 415.4 804.5 416.7 804.5 411.9 804.6 410.5 804.6 397.4 804.8 413.2 804.8 412.9 804.8 407.6 805.0 401.0 805.1 398.5 805.5 411.5 805.5 397.1 805.5 411.0 805.6 410.6 805.6 404.1 805.8 412.0 806.0 413.1 806.0 409.1 806.1 406.2 806.4 414.4 806.7 412.5 806.7 410.2 806.7 415.5 806.8 394.2 806.8 399.5 806.8 400.1 806.8 391.8 807.0 402.2 807.0 396.9 807.2 388.9 807.2 413.7 807.2 414.8 807.3 414.7 807.4 410.9 807.7 409.7 807.8 410.4 808.0 409.5 808.1 405.5" fill="none" stroke="none" marker-start="url(#m00ff00)" marker-mid="url(#m00ff00)" marker-end="url(#m00ff00)"/><path d="M808.6 412.1 808.8 402.0 808.9 406.3 809.0 409.6 809.1 391.6 809.2 410.3 809.2 398.1 809.3 392.0 809.6 398.3 809.7 402.8 809.8 394.0 809.8 407.2 810.1 396.9 810.2 405.5 810.5 405.9 810.5 413.3 810.6 391.3 810.7 389.6 810.7 390.2 811.0 412.9 811.2 410.8 811.4 411.8 811.5 406.1 811.8 398.6 811.8 410.2 811.9 400.9 812.0 392.0 812.2 401.1 812.3 396.8 812.3 394.8 812.4 401.5 812.6 392.9 812.8 394.1 812.9 387.5 813.0 400.2 813.2 402.2 813.2 401.5 813.2 386.8 813.5 406.1 813.6 400.9 813.6 406.8 813.9 390.2 813.9 399.0 814.2 388.6 814.2 395.4 814.5 384.5 814.5 403.8 814.8 399.0 814.9 404.9 814.9 390.1 815.0 392.0 815.2 383.6 815.2 404.4 815.3 390.1 815.5 406.7 815.6 386.1 815.7 406.1 815.9 406.1 816.0 406.3 816.1 389.2 816.3 405.8 816.5 407.8 816.5 393.9 816.6 404.7 816.7 406.3 816.8 396.5 816.9 392.9 817.2 403.7 817.2 405.5 817.2 402.9 817.3 405.4 817.6 389.1 817.6 391.5 817.8 393.2 818.0 394.3 818.1 388.3 818.4 385.6 818.4 401.6 818.5 388.1 818.8 383.5 819.0 407.3 819.0 403.7 819.0 383.1 819.2 389.7 819.2 398.1 819.2 391.6 819.3 384.0 819.6 404.1 819.8 400.8 820.0 382.7 820.3 383.8 820.3 397.7 820.5 392.5 820.6 398.7 821.0 395.7 821.5 389.7 821.5 387.7 821.9 393.0 821.9 385.8 822.2 385.0 822.2 394.4 822.7 391.8 822.9 386.7" fill="none" stroke="none" marker-start="url(#mffff00)" marker-mid="url(#mffff00)" marker-end="url(#mffff00)"/></g>
<rect x="83.5" y="383.5" width="775.0" height="234.0" fill="none" stroke="#000" stroke-width="1.11" stroke-linejoin="miter" stroke-linecap="square"/>
<path d="M118.5 617.5v4.86M177.5 617.5v4.86M234.5 617.5v4.86M293.5 617.5v4.86M350.5 617.5v4.86M408.5 617.5v4.86M467.5 617.5v4.86M520.5 617.5v4.86M579.5 617.5v4.86M636.5 617.5v4.86M695.5 617.5v4.86M752.5 617.5v4.86M811.5 617.5v4.86M83.5 383.5h-4.86M83.5 422.5h-4.86M83.5 461.5h-4.86M83.5 500.5h-4.86M83.5 539.5h-4.86M83.5 578.5h-4.86M83.5 617.5h-4.86" stroke="#000" stroke-width="1.11" fill="none"/>
<text x="51.88" y="390.08" font-size="16.50" textLength="19.71" lengthAdjust="spacingAndGlyphs">20</text>
<text x="53.02" y="429.08" font-size="16.50" textLength="19.57" lengthAdjust="spacingAndGlyphs">10</text>
<text x="63.78" y="468.08" font-size="16.50" textLength="9.38" lengthAdjust="spacingAndGlyphs">0</text>
<text x="40.04" y="507.03" font-size="16.50" textLength="32.71" lengthAdjust="spacingAndGlyphs">−10</text>
<text x="39.94" y="544.93" font-size="16.50" textLength="32.71" lengthAdjust="spacingAndGlyphs">−20</text>
<text x="40.04" y="584.13" font-size="16.50" textLength="32.71" lengthAdjust="spacingAndGlyphs">−30</text>
<text x="39.94" y="622.93" font-size="16.50" textLength="32.71" lengthAdjust="spacingAndGlyphs">−40</text>
<text x="-30.50" y="5.15" font-size="14.40" textLength="60.84" lengthAdjust="spacingAndGlyphs" transform="translate(117.30 660.50) rotate(-85)">08/02/14</text>
<text x="-30.50" y="5.15" font-size="14.40" textLength="60.84" lengthAdjust="spacingAndGlyphs" transform="translate(175.30 660.50) rotate(-85)">09/02/14</text>
<text x="-30.77" y="5.15" font-size="14.40" textLength="60.82" lengthAdjust="spacingAndGlyphs" transform="translate(233.30 661.50) rotate(-85)">10/02/14</text>
<text x="-30.77" y="5.15" font-size="14.40" textLength="60.82" lengthAdjust="spacingAndGlyphs" transform="translate(292.30 661.00) rotate(-85)">11/02/14</text>
<text x="-30.77" y="5.15" font-size="14.40" textLength="60.82" lengthAdjust="spacingAndGlyphs" transform="translate(349.30 661.50) rotate(-85)">12/02/14</text>
<text x="-30.28" y="5.15" font-size="14.40" textLength="60.60" lengthAdjust="spacingAndGlyphs" transform="translate(407.30 660.50) rotate(-85)">01/02/15</text>
<text x="-30.28" y="5.15" font-size="14.40" textLength="60.60" lengthAdjust="spacingAndGlyphs" transform="translate(466.30 659.50) rotate(-85)">02/02/15</text>
<text x="-30.28" y="5.15" font-size="14.40" textLength="60.60" lengthAdjust="spacingAndGlyphs" transform="translate(519.30 659.50) rotate(-85)">03/02/15</text>
<text x="-30.28" y="5.15" font-size="14.40" textLength="60.60" lengthAdjust="spacingAndGlyphs" transform="translate(578.30 659.50) rotate(-85)">04/02/15</text>
<text x="-30.28" y="5.15" font-size="14.40" textLength="60.60" lengthAdjust="spacingAndGlyphs" transform="translate(635.30 659.50) rotate(-85)">05/02/15</text>
<text x="-30.28" y="5.15" font-size="14.40" textLength="60.60" lengthAdjust="spacingAndGlyphs" transform="translate(694.30 660.50) rotate(-85)">06/02/15</text>
<text x="-30.28" y="5.15" font-size="14.40" textLength="60.60" lengthAdjust="spacingAndGlyphs" transform="translate(751.30 659.50) rotate(-85)">07/02/15</text>
<text x="-30.28" y="5.15" font-size="14.40" textLength="60.60" lengthAdjust="spacingAndGlyphs" transform="translate(810.30 660.50) rotate(-85)">08/02/15</text>
<text x="196.11" y="25.10" font-size="19.30" textLength="35.01" lengthAdjust="spacingAndGlyphs">Sea</text><text x="239.44" y="25.10" font-size="19.30" textLength="52.57" lengthAdjust="spacingAndGlyphs">Level</text><text x="298.96" y="25.10" font-size="19.30" textLength="86.31" lengthAdjust="spacingAndGlyphs">Pressure</text><text x="392.21" y="25.10" font-size="19.30" textLength="75.28" lengthAdjust="spacingAndGlyphs">116087</text><text x="481.20" y="25.10" font-size="19.30" textLength="114.37" lengthAdjust="spacingAndGlyphs">08/02/2014</text><text x="602.55" y="25.10" font-size="19.30" textLength="19.80" lengthAdjust="spacingAndGlyphs">to</text><text x="629.23" y="25.10" font-size="19.30" textLength="114.02" lengthAdjust="spacingAndGlyphs">08/08/2015</text>
<text x="185.51" y="375.00" font-size="19.30" textLength="75.51" lengthAdjust="spacingAndGlyphs">Surface</text><text x="266.86" y="375.00" font-size="19.30" textLength="130.58" lengthAdjust="spacingAndGlyphs">Temperature</text><text x="404.30" y="375.00" font-size="19.30" textLength="75.02" lengthAdjust="spacingAndGlyphs">116087</text><text x="492.98" y="375.00" font-size="19.30" textLength="113.98" lengthAdjust="spacingAndGlyphs">08/02/2014</text><text x="613.93" y="375.00" font-size="19.30" textLength="19.73" lengthAdjust="spacingAndGlyphs">to</text><text x="640.51" y="375.00" font-size="19.30" textLength="113.64" lengthAdjust="spacingAndGlyphs">08/08/2015</text>
<g transform="translate(20.5 228.7) rotate(-90)"><text x="-0.74" y="0.00" font-size="16.40" textLength="29.04" lengthAdjust="spacingAndGlyphs">Sea</text><text x="35.21" y="0.00" font-size="16.40" textLength="43.61" lengthAdjust="spacingAndGlyphs">Level</text><text x="84.59" y="0.00" font-size="16.40" textLength="71.60" lengthAdjust="spacingAndGlyphs">Pressure</text></g>
<g transform="translate(27.5 587.5) rotate(-90)"><text x="-0.82" y="0.00" font-size="16.40" textLength="61.87" lengthAdjust="spacingAndGlyphs">Surface</text><text x="65.85" y="0.00" font-size="16.40" textLength="106.99" lengthAdjust="spacingAndGlyphs">Temperature</text></g>
</svg></body></html>
